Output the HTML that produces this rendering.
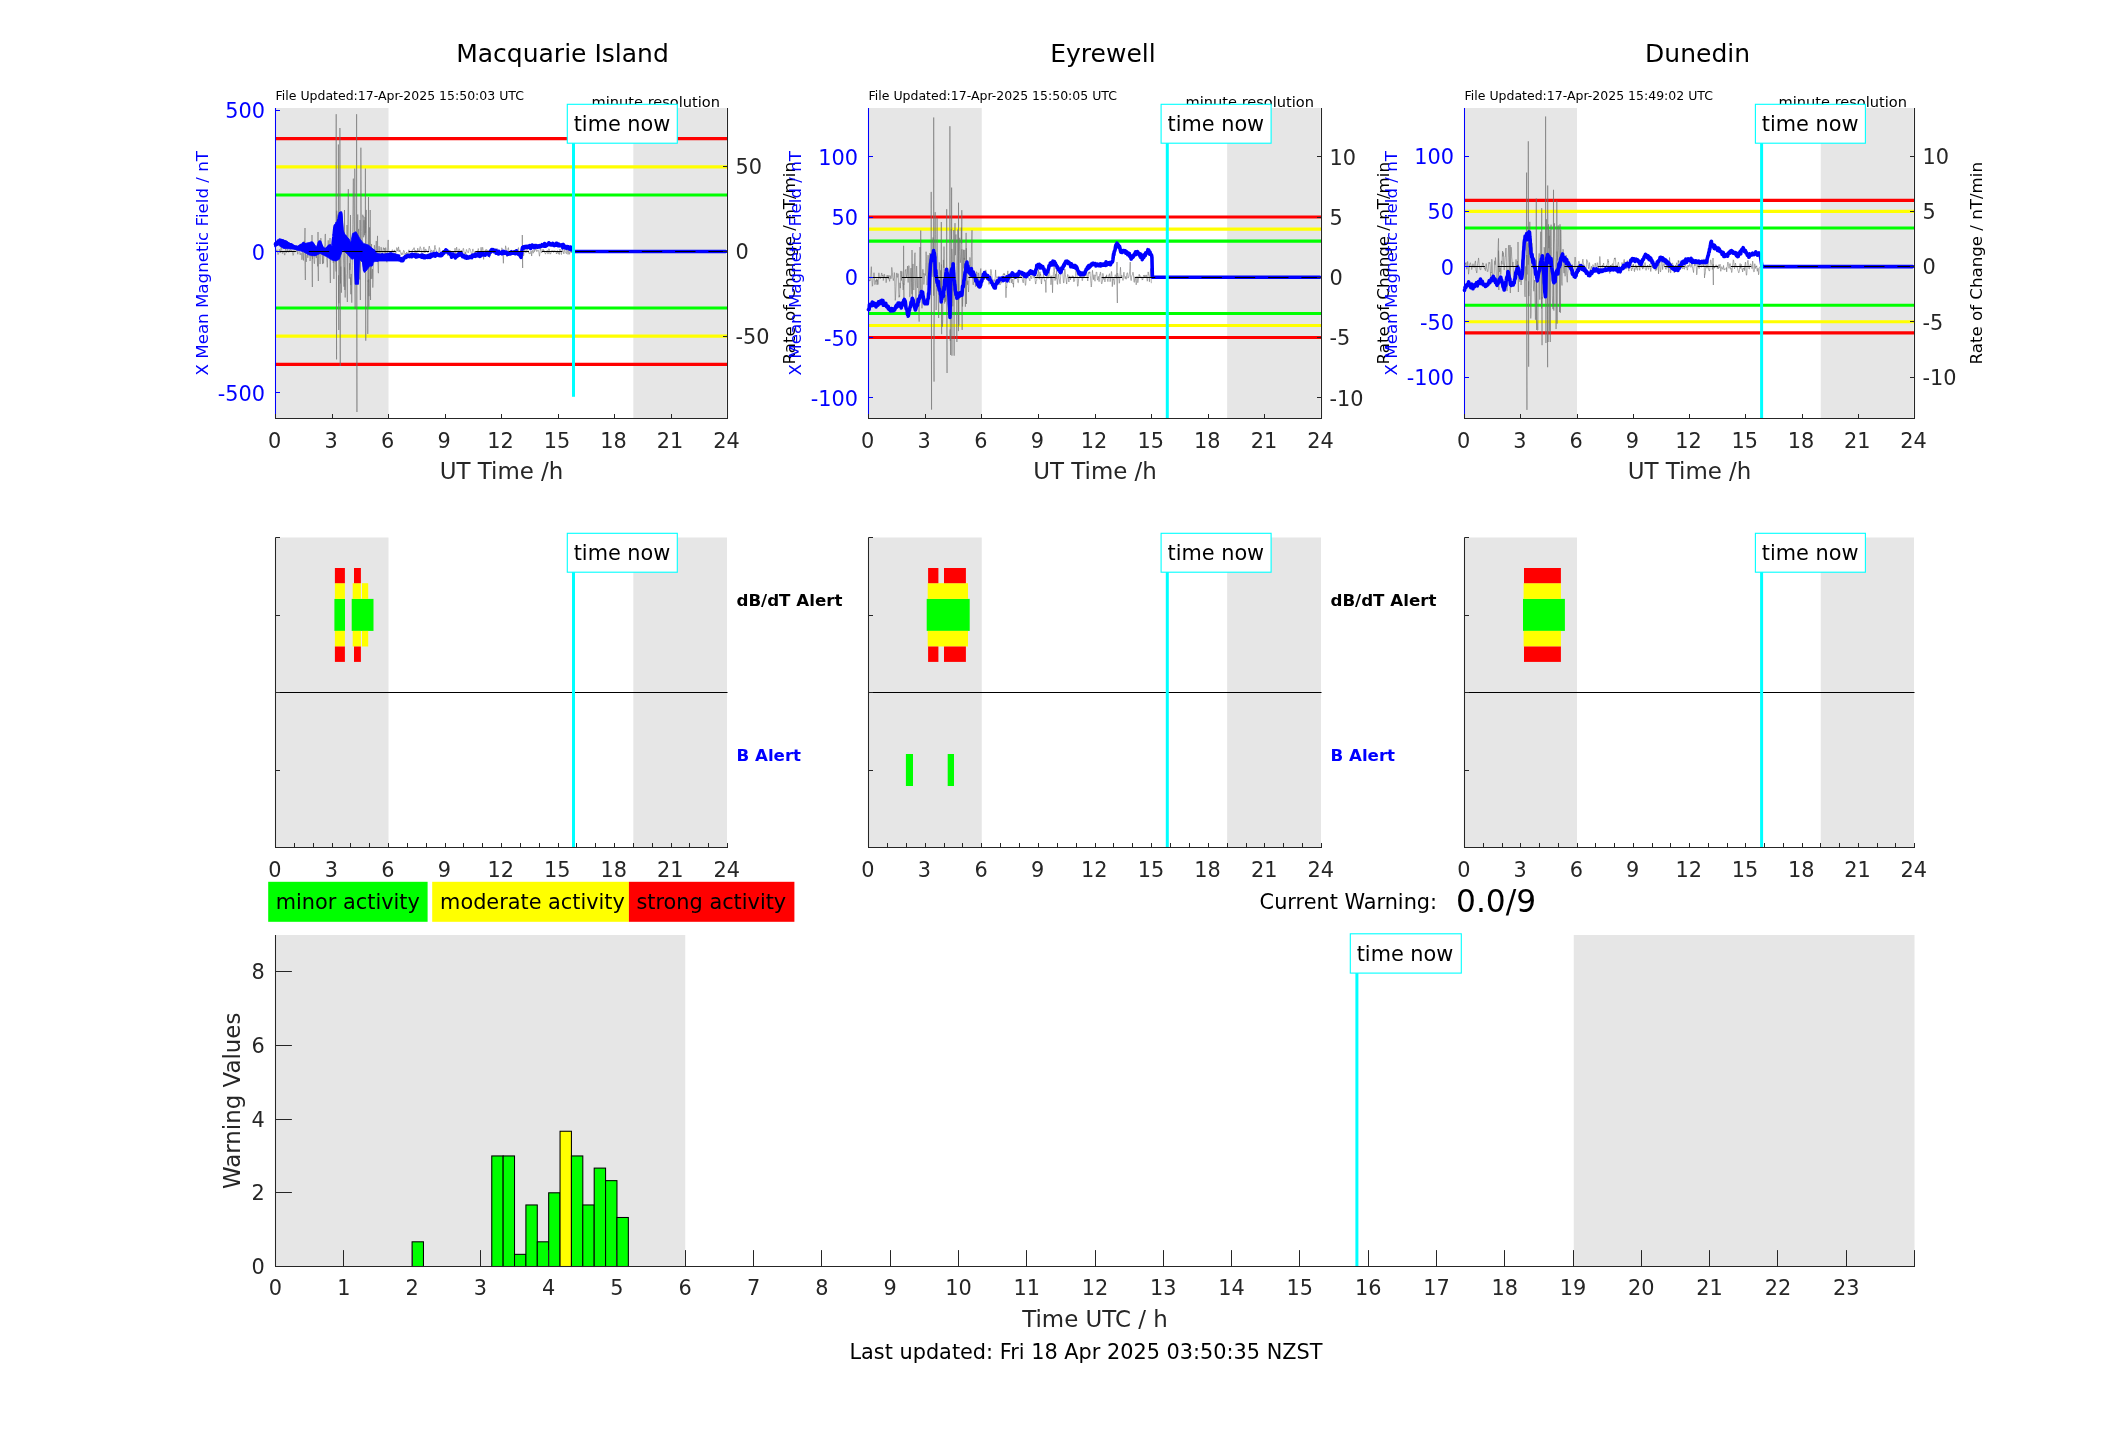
<!DOCTYPE html>
<html><head><meta charset="utf-8"><title>Geomagnetic alerts</title>
<style>html,body{margin:0;padding:0;background:#fff;overflow:hidden}svg{display:block;will-change:transform}text{font-family:"DejaVu Sans","Liberation Sans",sans-serif}</style>
</head><body>
<svg width="2117" height="1437" viewBox="0 0 2117 1437">
<rect width="2117" height="1437" fill="#fff"/>
<rect x="276" y="108" width="112.5" height="310" fill="#e6e6e6" />
<rect x="633.33" y="108" width="93.17" height="310" fill="#e6e6e6" />
<text x="275.5" y="100" font-size="12.5" fill="#000" text-anchor="start" font-weight="normal" >File Updated:17-Apr-2025 15:50:03 UTC</text>
<text x="720" y="107.2" font-size="14.58" fill="#000" text-anchor="end" font-weight="normal" >minute resolution</text>
<line x1="276" y1="138.62" x2="727" y2="138.62" stroke="#ff0000" stroke-width="3.1" />
<line x1="276" y1="364.38" x2="727" y2="364.38" stroke="#ff0000" stroke-width="3.1" />
<line x1="276" y1="166.84" x2="727" y2="166.84" stroke="#ffff00" stroke-width="3.1" />
<line x1="276" y1="336.16" x2="727" y2="336.16" stroke="#ffff00" stroke-width="3.1" />
<line x1="276" y1="195.06" x2="727" y2="195.06" stroke="#00ff00" stroke-width="3.1" />
<line x1="276" y1="307.94" x2="727" y2="307.94" stroke="#00ff00" stroke-width="3.1" />
<polyline points="275.5,251.18 275.81,251.78 276.13,251.71 276.44,251.18 276.76,249.89 277.07,249.64 277.38,251.71 277.7,253.28 278.01,254.62 278.32,254.26 278.64,253.31 278.95,252.2 279.27,249.22 279.58,249.66 279.89,251.36 280.21,252.97 280.52,251.11 280.84,248.11 281.15,246.89 281.46,247.72 281.78,250.25 282.09,252.15 282.41,253.54 282.72,252.6 283.03,251.97 283.35,251.89 283.66,250.86 283.98,252.7 284.29,253.86 284.6,254.91 284.92,255.21 285.23,250.57 285.54,249.13 285.86,249.27 286.17,251.13 286.49,252.63 286.8,252.39 287.11,250.68 287.43,249.47 287.74,251.22 288.06,251.31 288.37,251.75 288.68,252.4 289,250.52 289.31,249.98 289.62,251.98 289.94,250.38 290.25,249.61 290.57,249.9 290.88,249.78 291.19,251.1 291.51,251.93 291.82,250.39 292.14,251.06 292.45,252.45 292.76,253.96 293.08,255.45 293.39,254.94 293.71,253.26 294.02,249.94 294.33,249.58 294.65,249.49 294.96,249.79 295.27,249.16 295.59,248.68 295.9,249.03 296.22,251.92 296.53,250.82 296.84,248.72 297.16,249.11 297.47,252.18 297.79,254.28 298.1,251.84 298.41,247.24 298.73,247.07 299.04,248.06 299.36,248.77 299.67,251.6 299.98,254.47 300.3,254.9 300.61,253.91 300.93,252.82 301.24,253.59 301.55,253.84 301.87,259.74 302.18,258.12 302.49,246.52 302.81,248.7 303.12,255.87 303.44,260.46 303.75,249.22 304.06,240.94 304.38,245.29 304.69,241.55 305,228 305.35,280 305.01,243.06 305.32,252.72 305.63,251.02 305.95,258.24 306.26,261.9 306.57,258.49 306.89,255.07 307.2,254.79 307.52,253.75 307.83,257.81 308.14,253.94 308.46,248.67 308.77,252.18 309.09,253.94 309.4,249.46 309.71,252.59 310.03,261.04 310.34,259.2 310.66,247.92 310.97,242.66 311.28,243.01 311.6,245.55 311.91,256.55 312,235 312.35,287 312.23,255.27 312.54,259.08 312.85,251.52 313.17,243.46 313.48,245.77 313.79,255.18 314.11,262.94 314.42,263.76 314.74,259.4 315.05,254.2 315.36,252.96 315.68,250.75 315.99,250.94 316.31,258 316.62,254.89 316.93,257.38 317.25,258.89 317.56,266.31 317.88,265.33 318,232 318.35,281 318.19,256.46 318.5,247.51 318.82,244.32 319.13,250.35 319.44,252.53 319.76,255.16 320.07,264.02 320.39,250.62 320.7,238.1 321.01,238.45 321.33,246.48 321.64,254.33 321.96,255.25 322.27,257.3 322.58,264.06 322.9,252.01 323.21,260.91 323.52,263.32 323.84,256.59 324.15,250.11 324.47,246.06 324.78,245.97 325.09,234.96 325.41,233.94 325.72,246.26 326.04,249.63 326.35,252 326.66,257.78 326.98,262.35 327.29,267.34 327.61,258.24 327.92,244.42 328.23,240.34 328.55,246.2 328.86,257.19 329.18,247.44 329.49,249.28 329.8,244.15 330,238 330.35,283 330.12,248.01 330.43,244.34 330.74,246.41 331.06,255.73 331.37,258.22 331.69,257.5 332,258.34 332.31,256.42 332.63,254.17 332.94,257.69 333.26,262.81 333.57,259.09 333.88,278.91 334.2,264.45 334.51,258.56 334.82,249.85 335.14,246.95 335.45,253.48 335.77,262.81 336.08,271.53 336.2,114.2 336.55,359.4 336.39,244.71 336.71,210.69 337.02,219.44 337.34,224.43 337.65,224.17 337.96,214.58 338.28,244.65 338.4,144.5 338.75,330 338.59,275.32 338.91,303.26 339.22,281.46 339.53,256.01 339.85,223.11 339.9,128 340.25,366 340.16,229.12 340.48,283.43 340.79,266.6 341.1,283.21 341.42,292.69 341.73,276.74 342.04,227.44 342.36,231.96 342.67,241.81 342.99,242.68 343.3,253.03 343.61,264.1 343.93,286.68 344.24,268.18 344.5,210 344.85,290 344.56,267.3 344.87,281.71 345.18,297.53 345.5,282.84 345.81,249.65 346.12,247.3 346.44,249.6 346.75,253.56 347,225 347.35,302 347.07,275.88 347.38,273.29 347.69,228.08 348.01,208.03 348.32,189.14 348.64,218.92 348.95,254.65 349.26,278.66 349.58,263.2 349.89,269.9 350.21,266.47 350.5,215 350.85,285 350.52,277.47 350.83,294.24 351.15,273.98 351.46,287.6 351.77,302.67 352.09,277.99 352.4,265.51 352.72,224.59 353.03,198.17 353.34,178.6 353.66,216.46 353.97,234.82 354.29,252.24 354.6,258.64 354.8,168.6 355.15,309 354.91,258.53 355.23,246.55 355.54,245.65 355.86,274.28 356.17,280.43 356.48,278.65 356.6,114.2 356.95,412 356.8,280.25 357.11,265.27 357.42,232.2 357.74,214.48 358.05,237.27 358.37,231.86 358.68,228.88 358.99,252.32 359.31,276.57 359.62,278.74 359.94,279.59 360,220 360.35,300 360.25,269.87 360.56,238.82 360.88,147.69 361.19,197.12 361.51,231.28 361.82,250.8 362.13,248.51 362.45,237.19 362.76,214.74 363.07,217.2 363.39,216.54 363.7,237.3 364.02,220.19 364.33,229.72 364.64,235.27 364.96,216.9 365.27,233.08 365.4,168.6 365.75,340.7 365.59,246.2 365.9,222.81 366.21,209.91 366.53,225.84 366.84,239.36 367.16,263.8 367.47,282.77 367.78,333.96 368.1,280.37 368.41,282.37 368.5,197 368.85,306.8 368.73,279.34 369.04,296.2 369.35,227.71 369.67,227.42 369.98,257.47 370.2,210 370.55,300 370.29,266.91 370.61,258.23 370.92,279.13 371.24,252.18 371.55,243.99 371.86,278.72 372.18,271.85 372.49,269.11 372.81,287.59 373.12,279.73 373.43,259.63 373.75,259.53 374.06,250.28 374.38,245.19 374.69,247.04 375,255.15 375.32,257.75 375.63,255.17 375.94,245.83 376.26,241.04 376.57,248.6 376.89,254.7 377.2,251.35 377.51,235.86 377.83,260.2 378.14,272 378.46,273.2 378.77,248.11 379.08,246.18 379.4,247.81 379.71,255.05 380.02,258.61 380.34,257.19 380.65,255.29 380.97,247.15 381.28,247.5 381.59,250.39 381.91,250.53 382.22,254.72 382.54,260.6 382.85,255.84 383.16,249.43 383.48,247.64 383.79,248.9 384.11,249.66 384.42,248.2 384.73,254.77 385.05,259.78 385.36,255.5 385.67,247.62 385.99,249.75 386.3,254.45 386.62,260.76 386.93,262.31 387.24,255.88 387.56,251.09 387.87,242.65 388.19,239.92 388.5,247.93 388.81,251.05 389.13,252.07 389.44,252.22 389.76,252.55 390.07,252.72 390.38,253.05 390.7,252.79 391.01,251.67 391.32,251.95 391.64,251.96 391.95,250.74 392.27,249.64 392.58,249.87 392.89,250.6 393.21,251.59 393.52,252.1 393.84,252.33 394.15,251.91 394.46,249.95 394.78,250.09 395.09,252.1 395.41,253.47 395.72,253.11 396.03,252.73 396.35,250.78 396.66,247.7 396.98,247.78 397.29,248.36 397.6,251 397.92,251.34 398.23,248.36 398.54,246.85 398.86,250.06 399.17,252 399.49,251.16 399.8,249.9 400.11,250.58 400.43,251.97 400.74,252.75 401.06,254.44 401.37,254.92 401.68,253.62 402,252.68 402.31,253.68 402.62,254.44 402.94,254.8 403.25,252.18 403.57,250.25 403.88,250.65 404.19,250.89 404.51,252.61 404.82,253.8 405.14,254.53 405.45,253.31 405.76,254.96 406.08,255.84 406.39,254.11 406.71,252.09 407.02,253.91 407.33,253.41 407.65,253.35 407.96,253.69 408.27,252.9 408.59,250.4 408.9,249.75 409.22,250.62 409.53,252.89 409.84,254.48 410.16,254.04 410.47,253.71 410.79,253.2 411.1,252.41 411.41,251.63 411.73,250.85 412.04,251.55 412.36,250.62 412.67,249.73 412.98,250.04 413.3,249.06 413.61,249.09 413.92,247.71 414.24,247.81 414.55,250.23 414.87,252.83 415.18,253.59 415.49,252.79 415.81,250.02 416.12,251.41 416.44,252.86 416.75,257.85 417.06,252.84 417.38,251.16 417.69,248.14 418.01,248.96 418.32,251.7 418.63,250.78 418.95,250.53 419.26,251.61 419.57,249.98 419.89,247.52 420.2,246.64 420.52,247.57 420.83,248.12 421.14,249.98 421.46,252 421.77,253.66 422.09,254.47 422.4,255.43 422.71,255.63 423.03,252.26 423.34,249.44 423.66,247.51 423.97,246.92 424.28,248.55 424.6,250.78 424.91,252.94 425.23,251.52 425.54,249.2 425.85,248.94 426.17,249.7 426.48,250.54 426.79,251.36 427.11,250.94 427.42,251.82 427.74,252.6 428.05,252.43 428.36,251.08 428.68,248.9 428.99,247.07 429.31,246.07 429.62,248.01 429.93,248.79 430.25,250.69 430.56,252.28 430.88,251.1 431.19,250.33 431.5,250.04 431.82,251.11 432.13,252.62 432.44,252.91 432.76,251.38 433.07,250.42 433.39,250.29 433.7,251.67 434.01,252.72 434.33,251.85 434.64,247.21 434.96,245.34 435.27,248.58 435.58,248.46 435.9,249.62 436.21,250.5 436.52,251.56 436.84,252.77 437.15,252.35 437.47,254.6 437.78,254.05 438.09,253.96 438.41,252.95 438.72,253.12 439.04,249.56 439.35,247.54 439.66,248.52 439.98,251.14 440.29,255.63 440.61,256.63 440.92,256.45 441.23,255.07 441.55,253.87 441.86,252.77 442.17,251.4 442.49,251.32 442.8,250.03 443.12,251.43 443.43,250.98 443.74,251.28 444.06,254.15 444.37,254.26 444.69,253.11 445,253.18 445.31,252.5 445.63,250.68 445.94,250.36 446.26,251.42 446.57,252.91 446.88,252.92 447.2,253.59 447.51,255.5 447.82,254.77 448.14,253.23 448.45,251.08 448.77,251.82 449.08,251.22 449.39,251.85 449.71,251.44 450.02,250.39 450.34,251.2 450.65,255.73 450.96,253.77 451.28,252.1 451.59,251.92 451.91,251.57 452.22,251.73 452.53,253.59 452.85,255.07 453.16,253.64 453.47,254.7 453.79,253.85 454.1,253.29 454.42,251.38 454.73,250.33 455.04,248.12 455.36,250.63 455.67,254.08 455.99,253.32 456.3,250.23 456.61,247.1 456.93,248.81 457.24,250.39 457.56,251.69 457.87,251.93 458.18,251.72 458.5,250.16 458.81,249.94 459.12,248.75 459.44,249.24 459.75,250.91 460.07,252.67 460.38,252.83 460.69,251.2 461.01,250.64 461.32,250.12 461.64,252.39 461.95,254.18 462.26,253.82 462.58,252 462.89,249.9 463.21,248.32 463.52,248.44 463.83,250.25 464.15,252.44 464.46,256.84 464.77,256.24 465.09,254.51 465.4,252.22 465.72,254.08 466.03,251.64 466.34,249.59 466.66,249.53 466.97,250.58 467.29,252.07 467.6,252.34 467.91,252.56 468.23,252.27 468.54,252.72 468.86,250.08 469.17,248.18 469.48,248.62 469.8,248.89 470.11,248.92 470.42,250.88 470.74,251.43 471.05,252.55 471.37,253.61 471.68,253.62 471.99,253.3 472.31,252.18 472.62,249.53 472.94,248.91 473.25,250.3 473.56,250.95 473.88,251.43 474.19,252.65 474.51,251.72 474.82,251.9 475.13,254.11 475.45,253.47 475.76,252.41 476.07,251.23 476.39,252.6 476.7,253.25 477.02,253.93 477.33,252.35 477.64,250.59 477.96,250.56 478.27,248.51 478.59,250.5 478.9,253.15 479.21,251.71 479.53,251.74 479.84,251.49 480.16,251.91 480.47,252.4 480.78,250.42 481.1,247.23 481.41,252.15 481.72,252.18 482.04,250.83 482.35,248.71 482.67,247.29 482.98,248.82 483.29,252.95 483.61,259.42 483.92,254.96 484.24,256.08 484.55,254 484.86,250.89 485.18,250.11 485.49,250.98 485.81,250.44 486.12,249.18 486.43,249.89 486.75,251.31 487.06,250.56 487.38,250.33 487.69,250.06 488,251.12 488.32,251.74 488.63,251.86 488.94,251.33 489.26,253.51 489.57,257.69 489.89,253.64 490.2,253.35 490.51,251.42 490.83,250.49 491.14,251.35 491.46,253.76 491.77,253.6 492.08,252.47 492.4,251.66 492.71,249.29 493.02,249 493.34,249.14 493.65,250.73 493.97,250.56 494.28,248.45 494.59,248.71 494.91,250.43 495.22,251.18 495.54,252.83 495.85,252.8 496.16,251.46 496.48,251.32 496.79,249.4 497.11,248.45 497.42,249.27 497.73,251.78 498.05,252.83 498.36,253.19 498.67,251.82 498.99,251.29 499.3,253.15 499.62,252.58 499.93,254.7 500.24,253.63 500.56,252.11 500.87,251.21 501.19,252.11 501.5,250.8 501.81,247.81 502.13,248.57 502.44,251.29 502.76,253.65 503.07,257.22 503.38,263.3 503.7,254.57 504.01,253.07 504.32,251.99 504.64,253.23 504.95,251.61 505.27,250.2 505.58,245.77 505.89,246.91 506.21,249.14 506.52,252.57 506.84,256.63 507.15,256.55 507.46,253.92 507.78,250.77 508.09,248.33 508.41,247.64 508.72,249.79 509.03,251.78 509.35,252.84 509.66,252.6 509.97,253.1 510.29,253.27 510.6,252.39 510.92,252.32 511.23,251.73 511.54,249.88 511.86,251.38 512.17,252.84 512.49,251.86 512.8,252.48 513.11,252.81 513.43,250.47 513.74,251.63 514.06,252.62 514.37,253.76 514.68,253.61 515,252.4 515.31,249.42 515.62,249.91 515.94,250.94 516.25,251.4 516.57,252.13 516.88,252.35 517.19,252.92 517.51,252.14 517.82,251.37 518.14,248.38 518.45,247.61 518.76,249.77 519.08,253.39 519.39,254.08 519.71,253.15 520.02,253.85 520.33,252.77 520.65,252.52 520.96,253.99 521.27,253.72 521.59,254.09 521.9,252.25 522.22,251.16 522.3,235 522.65,268 522.53,249.55 522.84,250.86 523.16,252.67 523.47,256.09 523.79,255.08 524.1,252.21 524.41,250.92 524.73,249.17 525.04,249.87 525.36,251.69 525.67,252.27 525.98,252.89 526.3,250.7 526.61,250.79 526.92,249.26 527.24,248.56 527.55,248.82 527.87,249.67 528.18,252.02 528.49,253.18 528.81,252.57 529.12,252.42 529.44,253.88 529.75,253.61 530.06,252.97 530.38,253.48 530.69,253.2 531.01,250.7 531.32,252.75 531.63,256.04 531.95,253.36 532.26,251 532.58,250.44 532.89,251.8 533.2,253.24 533.52,252.91 533.83,250.8 534.14,250.08 534.46,251.6 534.77,251.04 535.09,249.68 535.4,249.72 535.71,248.15 536.03,248.48 536.34,249.48 536.66,251.49 536.97,251.74 537.28,250.68 537.6,249.98 537.91,250.22 538.22,250.11 538.54,250.69 538.85,252.3 539.17,254.28 539.48,256.23 539.79,254.2 540.11,251.35 540.42,246.79 540.74,248.74 541.05,250.16 541.36,251.5 541.68,252.88 541.99,251.35 542.31,251.14 542.62,251.16 542.93,249.07 543.25,249.37 543.56,251.97 543.88,250.15 544.19,251.56 544.5,252.16 544.82,252.78 545.13,253.09 545.44,254.15 545.76,253.27 546.07,253.06 546.39,251.74 546.7,251.8 547.01,250.7 547.33,250.32 547.64,252.77 547.96,254.1 548.27,253.47 548.58,250.82 548.9,248.7 549.21,249.03 549.52,251.48 549.84,253.36 550.15,254.21 550.47,253.4 550.78,253.77 551.09,252.47 551.41,250.64 551.72,251.12 552.04,251.63 552.35,251.51 552.66,250.73 552.98,250.33 553.29,251.41 553.61,252.48 553.92,251.13 554.23,251.09 554.55,251.47 554.86,250.46 555.17,251.32 555.49,251.53 555.8,251.22 556.12,252.16 556.43,254 556.74,253.04 557.06,252.36 557.37,250.52 557.69,252.8 558,252.86 558.31,253.76 558.63,252.43 558.94,252.29 559.26,254.59 559.57,251.33 559.88,249.08 560.2,249.55 560.51,250.57 560.83,250.73 561.14,253.81 561.45,254.57 561.77,251.58 562.08,250.29 562.39,248.73 562.71,250.17 563.02,250.85 563.34,251.93 563.65,253.63 563.96,253.88 564.28,251.23 564.59,247.8 564.91,249.04 565.22,251.74 565.53,252.11 565.85,253.1 566.16,253.54 566.47,253.66 566.79,249.97 567.1,248.26 567.42,249.88 567.73,252.41 568.04,254.48 568.36,251.24 568.67,249.79 568.99,250.37 569.3,254.34 569.61,254.07 569.93,252.36 570.24,251.08 570.56,251.65 570.87,251.36 571.18,252.67 571.5,251.9 571.81,251.62" fill="none" stroke="#6e6e6e" stroke-width="0.55" stroke-linejoin="round" stroke-linecap="round" stroke-linecap="butt" stroke-linejoin="miter"/>
<polygon points="274.6,242.6 280,239.7 286.7,241.3 291.7,244.3 297.5,246.8 300,244.3 303.4,244.3 306.7,243 310.9,242.2 315.1,245.1 316.7,248.4 320.1,241.8 323.4,247.6 326.8,248.4 330.1,244.3 333.4,248.4 335.5,222.6 338.4,221.3 339.3,212.5 341.8,211.7 343,230.1 346,236.7 349.3,239.2 350.6,243.4 352.6,233.4 356,231.7 360.2,239.2 363.5,243.4 368.5,245.1 373.5,249.3 376.8,253.4 382.7,254.3 391,252.6 400,255.1 400,261 386.9,261 376.8,261 371.8,262.6 369.3,266.8 366.8,270.1 364.3,272.6 362.7,262.6 359.3,259.3 358.5,284.3 355.1,284.3 354.3,258.4 351.8,259.3 346.8,253.4 342.6,250.1 339.3,259.3 335.9,261 331.8,260.1 326.8,256.8 320.1,253.4 315.1,255.9 309.2,255.1 303.4,251.8 295,249.3 283.4,248.4 278.3,245.1 274.6,246.8" fill="#0000ff" stroke="#0000ff" stroke-width="0.8" stroke-linejoin="round"/>
<polyline points="275.5,244.09 275.81,244.71 276.13,243.99 276.44,243.07 276.76,243.85 277.07,243.22 277.38,242.28 277.7,243.23 278.01,242.16 278.32,240.99 278.64,241.64 278.95,241.21 279.27,241.22 279.58,240.87 279.89,240.07 280.21,240.72 280.52,240.98 280.84,240.74 281.15,240.87 281.46,240.59 281.78,241.09 282.09,241.07 282.41,241.37 282.72,241.35 283.03,240.92 283.35,242 283.66,241.63 283.97,241.92 284.29,241.76 284.6,242.26 284.92,242.27 285.23,243.26 285.54,242.02 285.86,242.41 286.17,243.07 286.49,242.72 286.8,243.28 287.11,244.57 287.43,243.83 287.74,243.89 288.06,244.26 288.37,244.41 288.68,244.51 289,244.53 289.31,244.56 289.62,245.32 289.94,245.32 290.25,245.15 290.57,245.34 290.88,245 291.19,245.27 291.51,245.12 291.82,245.8 292.14,246.69 292.45,246.68 292.76,246.32 293.08,246.38 293.39,246.99 293.71,247.14 294.02,246.64 294.33,247.12 294.65,247.53 294.96,247.6 295.27,247.75 295.59,247.89 295.9,247.7 296.22,247.47 296.53,247.13 296.84,247.51 297.16,248.27 297.47,248.6 297.79,248.41 298.1,247.97 298.41,247.52 298.73,248.34 299.04,247.36 299.36,247.48 299.67,247.97 299.98,246.86 300.3,246.73 300.61,246.93 300.92,246.24 301.24,246.61 301.55,246.75 301.87,245.74 302.18,246.25 302.49,245.03 302.81,245.29 303.12,244.9 303.44,243.8 303.75,244.49 304.06,244.67 304.38,244.42 304.69,244.46 305.01,245.65 305.32,245.48 305.63,246.6 305.95,247.04 306.26,247.25 306.57,247.41 306.89,247.91 307.2,248.77 307.52,248.6 307.83,247.63 308.14,246.23 308.46,246.35 308.77,245.99 309.09,246.84 309.4,245.35 309.71,246.15 310.03,245.4 310.34,244.9 310.66,245.24 310.97,244.26 311.28,244.51 311.6,244.2 311.91,243.13 312.22,243.8 312.54,244.99 312.85,244.3 313.17,246.3 313.48,246.52 313.79,247.64 314.11,247.88 314.42,248.54 314.74,248.57 315.05,249.55 315.36,250.49 315.68,251.48 315.99,251.29 316.31,251.09 316.62,250.33 316.93,249.6 317.25,248.88 317.56,248.11 317.87,246.81 318.19,246.49 318.5,245.53 318.82,244.92 319.13,243.23 319.44,242.96 319.76,242 320.07,242.72 320.39,243.75 320.7,244.55 321.01,245.52 321.33,246.06 321.64,246.83 321.96,248.05 322.27,248.74 322.58,250 322.9,250.81 323.21,251.94 323.52,252.13 323.84,252.81 324.15,252.42 324.47,252.07 324.78,251.25 325.09,252 325.41,251.03 325.72,251.14 326.04,249.93 326.35,249.91 326.66,249.86 326.98,249.13 327.29,248.82 327.61,248.19 327.92,248.79 328.23,248.02 328.55,247.18 328.86,247 329.17,246.25 329.49,246.49 329.8,247.95 330.12,249.62 330.43,251.8 330.74,254.48 331.06,255.3 331.37,256.92 331.69,256.08 332,253.85 332.31,250.53 332.63,247.55 332.94,245.73 333.26,241.95 333.57,239.15 333.88,236.99 334.2,234.29 334.51,230.9 334.82,228.13 335.14,226.19 335.45,225.69 335.77,237.65 336.08,251.66 336.39,258.69 336.71,252.82 337.02,246.2 337.34,239.81 337.65,234.01 337.96,228.79 338.28,222.2 338.59,220.22 338.91,220.02 339.22,218.91 339.53,216.99 339.85,215.91 340.16,215.38 340.47,213.31 340.79,214.52 341.1,218.65 341.42,223.55 341.73,227.2 342.04,231.84 342.36,236.08 342.67,241.42 342.99,245.47 343.3,247.2 343.61,245.41 343.93,243.81 344.24,241.71 344.56,240.06 344.87,237.45 345.18,236.4 345.5,237.96 345.81,238.21 346.12,237.94 346.44,239.52 346.75,239.91 347.07,239.07 347.38,240.6 347.69,241.43 348.01,241.62 348.32,242.09 348.64,243.16 348.95,243.36 349.26,243.56 349.58,245.85 349.89,247.28 350.21,248.09 350.52,250.44 350.83,251.32 351.15,252.1 351.46,254.01 351.77,255.16 352.09,254.78 352.4,251.81 352.72,249.48 353.03,247.84 353.34,244.65 353.66,242.24 353.97,239.97 354.29,237.28 354.6,235.43 354.91,235.94 355.23,244.01 355.54,252.75 355.86,259.07 356.17,267.13 356.48,275.38 356.8,282.19 357.11,275.56 357.42,269.47 357.74,263.4 358.05,256.33 358.37,249.25 358.68,242.26 358.99,243.6 359.31,243.13 359.62,242.8 359.94,244.19 360.25,244.39 360.56,243.89 360.88,243.79 361.19,245.63 361.51,245.05 361.82,245.21 362.13,245.84 362.45,245.93 362.76,248.63 363.07,251.74 363.39,255.82 363.7,259.89 364.02,264 364.33,267.02 364.64,270.03 364.96,268.4 365.27,265.39 365.59,263.38 365.9,260.67 366.21,258.21 366.53,255.38 366.84,253.27 367.16,250.83 367.47,248.18 367.78,250.2 368.1,250.37 368.41,251.98 368.72,253.85 369.04,255.55 369.35,256.22 369.67,257.82 369.98,259.03 370.29,260.35 370.61,262.67 370.92,263.55 371.24,264.79 371.55,264.58 371.86,262.26 372.18,259.88 372.49,256.88 372.81,254.27 373.12,251.82 373.43,250.86 373.75,251.47 374.06,251.52 374.37,252.85 374.69,253.46 375,255.06 375.32,255.22 375.63,255.68 375.94,257.31 376.26,257.39 376.57,258.52 376.89,259.09 377.2,260.08 377.51,260.02 377.83,258.97 378.14,258.7 378.46,259 378.77,258.23 379.08,258.1 379.4,258.11 379.71,257.05 380.02,257.49 380.34,256.65 380.65,256.23 380.97,255.93 381.28,256.71 381.59,255.76 381.91,255.4 382.22,254.87 382.54,256.12 382.85,255.47 383.16,256.1 383.48,257.18 383.79,257.49 384.11,257.3 384.42,258.08 384.73,258.09 385.05,258 385.36,258.82 385.67,258.4 385.99,258.6 386.3,258.52 386.62,257.79 386.93,258.12 387.24,257.68 387.56,258.07 387.87,258.15 388.19,258.16 388.5,258.65 388.81,257.46 389.13,257.96 389.44,257.71 389.76,257.54 390.07,256.78 390.38,257.23 390.7,257.02 391.01,256.79 391.32,256.75 391.64,256.12 391.95,256.33 392.27,256.46 392.58,256.01 392.89,256.23 393.21,256.39 393.52,255.84 393.84,255.77 394.15,256.28 394.46,256.23 394.78,256.29 395.09,256.55 395.41,257.59 395.72,257.32 396.03,257.52 396.35,257.77 396.66,256.96 396.97,257.97 397.29,258.27 397.6,258.08 397.92,257.95 398.23,258.97 398.54,258.46 398.86,259.44 399.17,258.47 399.49,258.91 399.8,259.63 400.11,259.69 400.43,259.82 400.74,258.99 401.06,260.66 401.37,258.67 401.68,258.96 402,259.41 402.31,260.41 402.62,259.73 402.94,260.54 403.25,259.51 403.57,259.25 403.88,257.88 404.19,258.02 404.51,258.02 404.82,256.99 405.14,256.93 405.45,256.42 405.76,256.68 406.08,257.33 406.39,256.82 406.71,256.42 407.02,256.54 407.33,255.66 407.65,255.95 407.96,255.82 408.27,255.47 408.59,255.81 408.9,255.45 409.22,256.01 409.53,256.54 409.84,256.21 410.16,255.99 410.47,256.27 410.79,255.77 411.1,255.31 411.41,254.58 411.73,256.69 412.04,256.02 412.36,254.34 412.67,255.99 412.98,255.44 413.3,255.67 413.61,255.87 413.92,255.26 414.24,254.77 414.55,255.27 414.87,256.28 415.18,255.11 415.49,254.79 415.81,255.71 416.12,257.06 416.44,255.11 416.75,256.49 417.06,255.84 417.38,256.01 417.69,256.67 418.01,255.11 418.32,255.65 418.63,255.5 418.95,256.1 419.26,255.83 419.57,255.96 419.89,256.37 420.2,255.7 420.52,256.01 420.83,255.54 421.14,256.88 421.46,256.56 421.77,257.24 422.09,255.06 422.4,255.63 422.71,256.12 423.03,256.92 423.34,255.95 423.66,255.66 423.97,257.62 424.28,256.33 424.6,256.46 424.91,255.83 425.22,257.76 425.54,256.84 425.85,256.34 426.17,256.41 426.48,256.6 426.79,256.9 427.11,256.63 427.42,255.98 427.74,257.39 428.05,255.73 428.36,257.19 428.68,256.77 428.99,255.24 429.31,256.81 429.62,256.31 429.93,255.48 430.25,257.35 430.56,256.77 430.87,254.37 431.19,256.49 431.5,255.27 431.82,254.56 432.13,256.04 432.44,254.65 432.76,255.23 433.07,255.46 433.39,255.1 433.7,254.57 434.01,253.61 434.33,255.07 434.64,256 434.96,256.01 435.27,256.19 435.58,255.42 435.9,255.29 436.21,254.58 436.52,253.3 436.84,254.52 437.15,254.47 437.47,254.36 437.78,255.01 438.09,255.23 438.41,254.52 438.72,255.52 439.04,255.12 439.35,255.5 439.66,255.62 439.98,255.72 440.29,254.63 440.61,254.4 440.92,254.88 441.23,255.67 441.55,253.26 441.86,255.21 442.17,254.01 442.49,254.55 442.8,254.08 443.12,253.25 443.43,252.64 443.74,252.69 444.06,252.99 444.37,251.55 444.69,252.1 445,251.36 445.31,251.02 445.63,250.39 445.94,249.76 446.26,250.92 446.57,250.82 446.88,250.64 447.2,251.07 447.51,252.16 447.82,251.87 448.14,252.33 448.45,252.29 448.77,253.12 449.08,252.72 449.39,252.51 449.71,254 450.02,254.22 450.34,253.45 450.65,254.52 450.96,254.81 451.28,255.13 451.59,257.24 451.91,255.39 452.22,255.41 452.53,255.29 452.85,255.35 453.16,254.01 453.47,255.79 453.79,256.14 454.1,255.69 454.42,256.65 454.73,256.8 455.04,257.18 455.36,257.81 455.67,256.21 455.99,255.41 456.3,255.12 456.61,256.71 456.93,255.26 457.24,255.54 457.56,255.96 457.87,255.42 458.18,255.32 458.5,255.28 458.81,253.64 459.12,254.72 459.44,255.16 459.75,253.74 460.07,253.47 460.38,254.76 460.69,254.17 461.01,254.83 461.32,253.44 461.64,254.88 461.95,254.47 462.26,255.8 462.58,256.66 462.89,255.36 463.21,256.44 463.52,255.38 463.83,255.99 464.15,256.64 464.46,256.12 464.77,257.64 465.09,257.18 465.4,256.23 465.72,256.38 466.03,257.08 466.34,256.1 466.66,258.26 466.97,257.13 467.29,256.92 467.6,257.26 467.91,256.9 468.23,257.98 468.54,257.96 468.86,257.46 469.17,257.26 469.48,257.44 469.8,257.01 470.11,256.58 470.42,257.29 470.74,256.67 471.05,256.82 471.37,257.38 471.68,257.6 471.99,256.21 472.31,256.88 472.62,255.1 472.94,255.5 473.25,256.21 473.56,255.45 473.88,255.12 474.19,255.22 474.51,256.02 474.82,254.7 475.13,255.99 475.45,256.24 475.76,254.14 476.07,255.73 476.39,255.88 476.7,254.47 477.02,255.57 477.33,254.93 477.64,255.52 477.96,255.62 478.27,255.34 478.59,253.16 478.9,255.37 479.21,256.03 479.53,254.04 479.84,256.53 480.16,254.44 480.47,253.76 480.78,253.79 481.1,255.61 481.41,254.98 481.72,254.11 482.04,254.16 482.35,252.94 482.67,253.72 482.98,253.43 483.29,254.52 483.61,254.17 483.92,254.94 484.24,254.42 484.55,254.15 484.86,254.62 485.18,255.17 485.49,253.88 485.81,254.23 486.12,253.74 486.43,253.49 486.75,253.39 487.06,253.64 487.37,253.08 487.69,253.76 488,253.62 488.32,254.07 488.63,254.45 488.94,255.06 489.26,252.91 489.57,252.63 489.89,252.59 490.2,251.33 490.51,251.96 490.83,251.23 491.14,250.24 491.46,250.86 491.77,249.69 492.08,250.1 492.4,250.06 492.71,250.33 493.02,249.65 493.34,250.61 493.65,251.42 493.97,251.25 494.28,251.68 494.59,251.45 494.91,251.8 495.22,250.66 495.54,251.17 495.85,250.39 496.16,253.25 496.48,253.16 496.79,251.8 497.11,251.64 497.42,252.41 497.73,251.56 498.05,253.12 498.36,253.95 498.67,251.31 498.99,251.99 499.3,253.28 499.62,253.43 499.93,253.03 500.24,252.76 500.56,252.52 500.87,252.72 501.19,252.26 501.5,252.43 501.81,252.39 502.13,253.8 502.44,251.48 502.76,253.47 503.07,251.82 503.38,251.9 503.7,251.46 504.01,252.33 504.32,253.26 504.64,252.69 504.95,253.01 505.27,252.42 505.58,253.18 505.89,252.06 506.21,253.31 506.52,252.86 506.84,252.41 507.15,254.06 507.46,254.33 507.78,252.94 508.09,254.19 508.41,253.5 508.72,253.93 509.03,253.7 509.35,253.27 509.66,252.8 509.97,254.03 510.29,252.59 510.6,253.02 510.92,253.46 511.23,251.71 511.54,253.38 511.86,252.62 512.17,252.72 512.49,253.19 512.8,252.87 513.11,252.94 513.43,252.34 513.74,252.19 514.06,252.51 514.37,252.41 514.68,252.02 515,253.5 515.31,253.71 515.62,251.52 515.94,252.27 516.25,253.11 516.57,250.88 516.88,253.08 517.19,252.47 517.51,253.1 517.82,253.61 518.14,254.14 518.45,252.68 518.76,254.34 519.08,254.32 519.39,254.99 519.71,253.91 520.02,254.57 520.33,256.01 520.65,256.57 520.96,257.29 521.27,253.53 521.59,253.75 521.9,250.87 522.22,249.13 522.53,247.46 522.84,248.05 523.16,248.28 523.47,246.9 523.79,247.82 524.1,247.45 524.41,246.76 524.73,247.79 525.04,246.5 525.36,246.72 525.67,246.93 525.98,246.96 526.3,246.27 526.61,246.46 526.92,247.45 527.24,246.71 527.55,246.75 527.87,246.45 528.18,247.03 528.49,247.15 528.81,246.23 529.12,246.88 529.44,245.8 529.75,246.36 530.06,245.6 530.38,246.03 530.69,248.51 531.01,245.84 531.32,247.32 531.63,246.65 531.95,246.66 532.26,245.08 532.57,246.66 532.89,245.55 533.2,246.1 533.52,246.06 533.83,246.33 534.14,247.81 534.46,247.76 534.77,245.44 535.09,246.39 535.4,246.12 535.71,246.77 536.03,245.55 536.34,245.68 536.66,246.56 536.97,246.03 537.28,247.21 537.6,246.23 537.91,246.52 538.22,246 538.54,246.79 538.85,247 539.17,246.09 539.48,245.74 539.79,246.42 540.11,246.03 540.42,246.56 540.74,245.91 541.05,245.86 541.36,246.27 541.68,245.12 541.99,244.76 542.31,245.87 542.62,245.36 542.93,245.85 543.25,245.93 543.56,245.57 543.87,244.86 544.19,246.26 544.5,243.59 544.82,244.57 545.13,244.19 545.44,246.31 545.76,244.67 546.07,244.72 546.39,245.2 546.7,245.58 547.01,245.35 547.33,244.58 547.64,244.69 547.96,243.78 548.27,244.64 548.58,244.21 548.9,242.85 549.21,244.43 549.52,244.14 549.84,244.7 550.15,244.53 550.47,244.11 550.78,243.87 551.09,245.02 551.41,244.06 551.72,244.66 552.04,244.31 552.35,244.98 552.66,244.79 552.98,243.41 553.29,244.6 553.61,245.36 553.92,245.26 554.23,244.17 554.55,245.55 554.86,245.1 555.17,244.99 555.49,244.14 555.8,244.94 556.12,245.04 556.43,243.35 556.74,244.47 557.06,243.84 557.37,243.68 557.69,245.1 558,245.61 558.31,245.05 558.63,244.09 558.94,244.28 559.26,245.8 559.57,245.14 559.88,245.53 560.2,245.23 560.51,245.61 560.82,245.15 561.14,245.24 561.45,244.83 561.77,245.9 562.08,245.92 562.39,246.83 562.71,247.73 563.02,246.36 563.34,244.41 563.65,245.6 563.96,247.41 564.28,246.92 564.59,246.58 564.91,246.15 565.22,247.2 565.53,247.18 565.85,247.79 566.16,248.06 566.47,248.3 566.79,247.99 567.1,246.62 567.42,247.88 567.73,246.8 568.04,247.17 568.36,247.21 568.67,247.02 568.99,247.34 569.3,248.99 569.61,248.01 569.93,249.25 570.24,248.34 570.56,247.11 570.87,247.97 571.18,249.61 571.5,249.33 571.81,248.92 572.12,249.4 572.44,249.88 572.75,250.36 573.07,250.84 573.38,251.32 573.5,251.5 725.7,251.5" fill="none" stroke="#0000ff" stroke-width="3.6" stroke-linejoin="round" stroke-linecap="round" />
<line x1="275.5" y1="251.5" x2="727.5" y2="251.5" stroke="#000" stroke-width="1.05" stroke-dasharray="20.4 12.9"/>
<line x1="573.5" y1="143" x2="573.5" y2="396.8" stroke="#00ffff" stroke-width="3" />
<rect x="567.3" y="104.3" width="110" height="38.9" fill="#fff" stroke="#00ffff" stroke-width="1.1"/>
<text x="573.7" y="131" font-size="20.83" fill="#000" text-anchor="start" font-weight="normal" >time now</text>
<line x1="275.5" y1="108" x2="275.5" y2="418.5" stroke="#0000ff" stroke-width="1.05" />
<line x1="275" y1="418.5" x2="728" y2="418.5" stroke="#262626" stroke-width="1.05" />
<line x1="727.5" y1="108" x2="727.5" y2="418.5" stroke="#262626" stroke-width="1.05" />
<line x1="275.5" y1="418.5" x2="275.5" y2="414" stroke="#262626" stroke-width="1.05" />
<text x="274.6" y="447.5" font-size="20.83" fill="#262626" text-anchor="middle" font-weight="normal" >0</text>
<line x1="332.5" y1="418.5" x2="332.5" y2="414" stroke="#262626" stroke-width="1.05" />
<text x="331.1" y="447.5" font-size="20.83" fill="#262626" text-anchor="middle" font-weight="normal" >3</text>
<line x1="388.5" y1="418.5" x2="388.5" y2="414" stroke="#262626" stroke-width="1.05" />
<text x="387.6" y="447.5" font-size="20.83" fill="#262626" text-anchor="middle" font-weight="normal" >6</text>
<line x1="445.5" y1="418.5" x2="445.5" y2="414" stroke="#262626" stroke-width="1.05" />
<text x="444.1" y="447.5" font-size="20.83" fill="#262626" text-anchor="middle" font-weight="normal" >9</text>
<line x1="501.5" y1="418.5" x2="501.5" y2="414" stroke="#262626" stroke-width="1.05" />
<text x="500.6" y="447.5" font-size="20.83" fill="#262626" text-anchor="middle" font-weight="normal" >12</text>
<line x1="558.5" y1="418.5" x2="558.5" y2="414" stroke="#262626" stroke-width="1.05" />
<text x="557.1" y="447.5" font-size="20.83" fill="#262626" text-anchor="middle" font-weight="normal" >15</text>
<line x1="614.5" y1="418.5" x2="614.5" y2="414" stroke="#262626" stroke-width="1.05" />
<text x="613.6" y="447.5" font-size="20.83" fill="#262626" text-anchor="middle" font-weight="normal" >18</text>
<line x1="671.5" y1="418.5" x2="671.5" y2="414" stroke="#262626" stroke-width="1.05" />
<text x="670.1" y="447.5" font-size="20.83" fill="#262626" text-anchor="middle" font-weight="normal" >21</text>
<line x1="727.5" y1="418.5" x2="727.5" y2="414" stroke="#262626" stroke-width="1.05" />
<text x="726.6" y="447.5" font-size="20.83" fill="#262626" text-anchor="middle" font-weight="normal" >24</text>
<line x1="275.5" y1="110.5" x2="280" y2="110.5" stroke="#0000ff" stroke-width="1.05" />
<text x="265.1" y="118.4" font-size="20.83" fill="#0000ff" text-anchor="end" font-weight="normal" >500</text>
<line x1="275.5" y1="251.5" x2="280" y2="251.5" stroke="#0000ff" stroke-width="1.05" />
<text x="265.1" y="259.5" font-size="20.83" fill="#0000ff" text-anchor="end" font-weight="normal" >0</text>
<line x1="275.5" y1="392.5" x2="280" y2="392.5" stroke="#0000ff" stroke-width="1.05" />
<text x="265.1" y="400.6" font-size="20.83" fill="#0000ff" text-anchor="end" font-weight="normal" >-500</text>
<line x1="727.5" y1="166.5" x2="723" y2="166.5" stroke="#262626" stroke-width="1.05" />
<text x="735.6" y="174.3" font-size="20.83" fill="#262626" text-anchor="start" font-weight="normal" >50</text>
<line x1="727.5" y1="251.5" x2="723" y2="251.5" stroke="#262626" stroke-width="1.05" />
<text x="735.6" y="259.3" font-size="20.83" fill="#262626" text-anchor="start" font-weight="normal" >0</text>
<line x1="727.5" y1="336.5" x2="723" y2="336.5" stroke="#262626" stroke-width="1.05" />
<text x="735.6" y="344.3" font-size="20.83" fill="#262626" text-anchor="start" font-weight="normal" >-50</text>
<text x="501.5" y="479.2" font-size="22.92" fill="#262626" text-anchor="middle" font-weight="normal" >UT Time /h</text>
<text transform="translate(208.4,263.25) rotate(-90)" font-size="16.67" fill="#0000ff" text-anchor="middle">X Mean Magnetic Field / nT</text>
<text transform="translate(794.7,263.25) rotate(-90)" font-size="16.67" fill="#000" text-anchor="middle">Rate of Change / nT/min</text>
<text x="562.5" y="62" font-size="25" fill="#000" text-anchor="middle" font-weight="normal" >Macquarie Island</text>
<rect x="869" y="108" width="112.75" height="310" fill="#e6e6e6" />
<rect x="1227.12" y="108" width="93.38" height="310" fill="#e6e6e6" />
<text x="868.5" y="100" font-size="12.5" fill="#000" text-anchor="start" font-weight="normal" >File Updated:17-Apr-2025 15:50:05 UTC</text>
<text x="1314" y="107.2" font-size="14.58" fill="#000" text-anchor="end" font-weight="normal" >minute resolution</text>
<line x1="869" y1="217.05" x2="1321" y2="217.05" stroke="#ff0000" stroke-width="3.1" />
<line x1="869" y1="337.55" x2="1321" y2="337.55" stroke="#ff0000" stroke-width="3.1" />
<line x1="869" y1="229.1" x2="1321" y2="229.1" stroke="#ffff00" stroke-width="3.1" />
<line x1="869" y1="325.5" x2="1321" y2="325.5" stroke="#ffff00" stroke-width="3.1" />
<line x1="869" y1="241.15" x2="1321" y2="241.15" stroke="#00ff00" stroke-width="3.1" />
<line x1="869" y1="313.45" x2="1321" y2="313.45" stroke="#00ff00" stroke-width="3.1" />
<polyline points="868.5,276.94 868.81,276.4 869.13,279.3 869.44,281.14 869.76,279.98 870.07,280.77 870.39,279.79 870.7,275.89 871.02,271.06 871.33,266.65 871.65,274.36 871.96,280.45 872.27,286.25 872.59,285.88 872.9,282.11 873.22,278.42 873.53,276.49 873.85,272.84 874.16,272.8 874.48,277.09 874.79,284.55 875.11,284.52 875.42,282.23 875.74,280.43 876.05,281.44 876.36,281.35 876.68,278.82 876.99,284.8 877.31,280.95 877.62,279.74 877.94,284.57 878.25,280.65 878.57,277.01 878.88,272.81 879.2,275.98 879.51,276.33 879.83,277.47 880.14,278.93 880.45,278.37 880.77,277.49 881.08,276.07 881.4,274.41 881.71,272.93 882.03,274.62 882.34,276.14 882.66,275.3 882.97,274.81 883.29,280.54 883.6,279.52 883.91,276.8 884.23,274.35 884.54,274.3 884.86,277.44 885.17,277.56 885.49,278.19 885.8,279.27 886.12,282.73 886.43,280.97 886.75,276.82 887.06,275.27 887.38,276.49 887.69,275.69 888,275.4 888.32,279.15 888.63,276.83 888.95,275.34 889.26,279.26 889.58,281.37 889.89,279 890.21,275.62 890.52,276.31 890.84,278.8 891.15,278.32 891.46,276.32 891.78,267.39 892.09,269.96 892.41,272.59 892.72,277.34 893.04,278.86 893.35,280.63 893.67,278.64 893.98,277.8 894.3,272.56 894.61,273.73 894.92,286.73 895.24,300.4 895.55,297.32 895.87,290.24 896.18,281.09 896.5,275.37 896.81,272.93 897.13,277.22 897.44,277.34 897.76,277.09 898.07,273.64 898.39,278.98 898.7,291.14 899.01,297.4 899.33,295.49 899.64,296.7 899.96,282.77 900.27,288.17 900.59,272.02 900.9,270.92 901.22,274.31 901.53,280.55 901.85,271.37 902.16,277.69 902.48,283.1 902.79,284.39 903.1,289.86 903.42,288.42 903.6,245.8 903.95,299.7 903.73,283.55 904.05,284.63 904.36,281.55 904.68,280.7 904.99,276.06 905.31,270 905.62,270.28 905.94,269.32 906.25,274.44 906.56,276.86 906.88,274.46 907.19,273.76 907.51,266.1 907.82,272.29 908.14,282.52 908.45,268.89 908.77,265.58 909.08,265.96 909.4,275.53 909.71,296.91 910.02,296.67 910.34,287.12 910.65,271.46 910.97,268.09 911.28,275.69 911.6,282.63 911.91,294.22 912,250 912.35,300 912.23,275.11 912.54,270.23 912.86,264.02 913.17,264.08 913.49,281.56 913.8,290.03 914.11,283.54 914.43,269.41 914.74,254.17 915.06,252.7 915.37,278.24 915.69,290.16 916,303.92 916.32,276.07 916.63,266.02 916.95,272.72 917.26,285.83 917.58,287.94 917.89,278.48 918.2,277.86 918.52,294.09 918.83,316.62 919.15,321.64 919.46,304.79 919.78,288.33 920,247 920.35,296 920.09,265.04 920.41,259.47 920.72,230.53 921.04,264.01 921.35,279.39 921.66,297.73 921.98,308.31 922.29,303.68 922.61,273.12 922.92,269.26 923.24,274.31 923.55,273.53 923.87,284.52 924.18,281.04 924.5,275.46 924.81,273.54 925.12,274.12 925.44,275.51 925.75,262.3 926.07,251.69 926.38,256.73 926.7,274.28 927.01,285.11 927.33,279 927.64,265.83 927.96,255.12 928.27,255.59 928.59,271.4 928.9,284.48 929.21,276.93 929.53,261.57 929.84,253.04 930.16,273.97 930.47,279.02 930.79,279.73 931.1,267.37 931.2,191.9 931.55,409.6 931.42,255.57 931.73,276.54 932.05,277 932.36,273.37 932.67,250.93 932.99,237.45 933.3,249.89 933.62,295.76 933.7,117.5 934.05,381.6 933.93,345.82 934.25,320.25 934.56,282.79 934.88,226.17 935.19,212.19 935.51,234.62 935.82,277.56 936.14,310.07 936.45,294.63 936.76,256.23 937.08,217.67 937.39,252.7 937.71,259.94 938.02,289.27 938.34,304.91 938.65,318 938.97,277.06 939.28,262.34 939.6,268.48 939.91,275.74 940.23,289.09 940.54,270.32 940.85,289.4 941.17,270.53 941.3,222 941.65,334.2 941.48,264.53 941.8,280.82 942.11,297.98 942.43,326.75 942.74,319.77 943.06,276.69 943.37,259.91 943.69,267.86 944,246.58 944.31,265.21 944.63,303.58 944.94,297.75 945.26,302.07 945.57,294.68 945.89,300.63 946.2,283.64 946.52,286.81 946.7,209.2 947.05,373 946.83,296.64 947.15,294.73 947.46,280.05 947.77,267.99 948.09,278.4 948.4,310.27 948.72,310.43 949.03,311.86 949.35,298.9 949.66,317.23 949.9,126.2 950.25,340.7 949.98,331.54 950.29,329.34 950.61,354.96 950.92,277.84 951.24,229.3 951.55,239.5 951.6,187.6 951.95,355.7 951.86,248.9 952.18,254.76 952.49,287.46 952.81,306.34 953.12,283.95 953.44,290.39 953.75,282.7 953.8,230 954.15,355.7 954.07,294.31 954.38,267.38 954.7,235.78 955.01,223.11 955.33,255.2 955.64,245.58 955.95,234.5 956.27,265.44 956.58,334.03 956.9,341.98 957.21,299.82 957.53,258.09 957.84,229.46 958.16,263.41 958.47,331.13 958.5,202.7 958.85,325.6 958.79,295.36 959.1,299.31 959.41,251.6 959.73,237.77 960.04,248.15 960.36,262.74 960.67,260.03 960.99,254.91 961.3,227.62 961.62,243.33 961.8,210.2 962.15,329.9 961.93,249.15 962.25,275.74 962.56,306.51 962.88,297.57 963.19,261.31 963.5,249.78 963.82,268.34 964.13,257.89 964.45,259.74 964.76,249.86 965.08,283.92 965.39,306.74 965.71,276.03 966.02,249.15 966.1,232.9 966.45,304 966.34,248.19 966.65,267.63 966.96,268.24 967.28,280.83 967.59,284.78 967.91,280.64 968.22,286.78 968.54,292.02 968.85,286.13 969.17,277.99 969.48,268.59 969.8,257.37 970.11,257.85 970.42,267.11 970.74,274.17 971.05,272.7 971.37,252.65 971.68,240.3 972,230.27 972.31,267.93 972.63,276.09 972.94,284.03 973.26,284.92 973.57,281.93 973.89,281.45 974.2,279.09 974.51,276.71 974.83,279.18 975.14,279.44 975.46,286.66 975.77,281.85 976.09,275.49 976.4,271.65 976.72,272.72 977.03,272.62 977.35,282.36 977.66,288.01 977.98,278.71 978.29,272.84 978.6,274.34 978.92,281.28 979.23,284.92 979.55,280.31 979.86,279.65 980.18,272.86 980.49,271.5 980.81,268.5 981.12,275.03 981.44,283.81 981.75,285.74 982.06,284.11 982.38,279.91 982.69,275.41 983.01,276.16 983.32,274.82 983.64,276.66 983.95,277.21 984.27,279.05 984.58,279.77 984.9,277.39 985.21,275.12 985.52,271.2 985.84,269.86 986.15,271.21 986.47,276.78 986.78,279.17 987.1,280.16 987.41,278.92 987.73,274.78 988.04,274.84 988.36,279.95 988.67,282.83 988.99,284.46 989.3,283.36 989.61,282.04 989.93,283.46 990.24,277.99 990.56,273.26 990.87,269.35 991.19,270.81 991.5,273.74 991.82,275.4 992.13,278.13 992.45,283.13 992.76,286.11 993.08,287.48 993.39,283.92 993.7,279.91 994.02,279.55 994.33,280.41 994.65,281.54 994.96,279.6 995.28,276.62 995.59,269.89 995.91,276.61 996.22,276.62 996.54,277.37 996.85,278.3 997.16,278.18 997.48,277.14 997.79,277.54 998.11,276.16 998.42,276.21 998.74,279.48 999.05,279.17 999.37,280.6 999.68,282.51 1000,285.01 1000.31,281.11 1000.62,280.83 1000.94,281.25 1001.25,282.76 1001.57,283.2 1001.88,280.53 1002.2,279.6 1002.51,278.48 1002.83,276.39 1003.14,274.5 1003.46,273.83 1003.77,274.76 1004.09,273.13 1004.4,274.85 1004.71,274.05 1005.03,276.42 1005.34,281.07 1005.66,284.52 1005.97,297.71 1006.29,286.82 1006.6,287.62 1006.92,283.3 1007.23,276.51 1007.55,272.85 1007.86,270.83 1008.17,275.47 1008.49,274.03 1008.8,274.81 1009.12,278.37 1009.43,281.17 1009.75,282.82 1010.06,279.12 1010.38,275.39 1010.69,273.97 1011.01,275.75 1011.32,278.71 1011.64,282.86 1011.95,280.13 1012.26,278.91 1012.58,281.25 1012.89,284.01 1013.21,283.08 1013.52,287.31 1013.84,278.73 1014.15,279.24 1014.47,277.61 1014.78,278.36 1015.1,278.88 1015.41,276.95 1015.73,276.54 1016.04,276.6 1016.35,275.63 1016.67,276.26 1016.98,275.37 1017.3,278.17 1017.61,280.45 1017.93,282.47 1018.24,282.75 1018.56,281.12 1018.87,275.77 1019.19,272.98 1019.5,273.53 1019.81,274.58 1020.13,276.3 1020.44,277.03 1020.76,276.66 1021.07,275.03 1021.39,274.23 1021.7,273 1022.02,276.44 1022.33,279.38 1022.65,281.15 1022.96,282.14 1023.27,282.88 1023.59,279.76 1023.9,275.05 1024.22,272.3 1024.53,273.18 1024.85,279.09 1025.16,283.93 1025.48,285.42 1025.79,284.23 1026.11,279.44 1026.42,275.61 1026.74,273.03 1027.05,273.79 1027.36,273.36 1027.68,274.35 1027.99,275.29 1028.31,277.74 1028.62,277.73 1028.94,278.33 1029.25,279.28 1029.57,280.02 1029.88,280.91 1030.2,277.99 1030.51,276.36 1030.83,275.65 1031.14,278.27 1031.45,278.43 1031.77,278.7 1032.08,275.59 1032.4,274.09 1032.71,273.3 1033.03,274.67 1033.34,275.4 1033.66,276.61 1033.97,278.11 1034.29,275.73 1034.6,277.64 1034.91,276.92 1035.23,280.94 1035.54,283.88 1035.86,283.93 1036.17,281.25 1036.49,280.8 1036.8,279.67 1037.12,274.77 1037.43,274.66 1037.75,276.39 1038.06,272.9 1038.38,269.48 1038.69,273.92 1039,278.63 1039.32,279.25 1039.63,275.13 1039.95,271.75 1040.26,275.59 1040.58,273.89 1040.89,275.61 1041.21,282.27 1041.52,284.03 1041.84,280.15 1042.15,277.86 1042.46,277.68 1042.78,278.23 1043.09,277.8 1043.41,274.2 1043.72,274.73 1044.04,277.74 1044.35,280.08 1044.67,281.19 1044.98,280.4 1045.3,280.42 1045.61,286.13 1045.92,292.51 1046.24,280.67 1046.55,274.89 1046.87,269.17 1047.18,269.74 1047.5,276.38 1047.81,278.54 1048.13,278.26 1048.44,276.62 1048.76,273.17 1049.07,270.27 1049.39,272.05 1049.7,274.49 1050.01,276.71 1050.33,276.29 1050.64,279.37 1050.96,284.75 1051.27,282.75 1051.59,276.13 1051.9,275.62 1052.22,279.04 1052.53,292.74 1052.85,282.32 1053.16,278.84 1053.47,272.28 1053.79,271.83 1054.1,264.32 1054.42,270.23 1054.73,274.31 1055.05,280.62 1055.36,276.47 1055.68,273.95 1055.99,279.14 1056.31,276.22 1056.62,270.26 1056.94,278.48 1057.25,284.01 1057.56,284.41 1057.88,279.88 1058.19,277.03 1058.51,274.29 1058.82,274.88 1059.14,278.49 1059.45,280.14 1059.77,282.2 1060.08,283.79 1060.4,280.01 1060.71,276.2 1061.03,272.58 1061.34,273.49 1061.65,272.08 1061.97,271.61 1062.28,269.37 1062.6,272.68 1062.91,274.68 1063.23,279.56 1063.54,282.81 1063.86,283.1 1064.17,279.02 1064.49,272.71 1064.8,269.07 1065.11,270.83 1065.43,274.51 1065.74,277.42 1066.06,278.99 1066.37,282.03 1066.69,284.02 1067,279.61 1067.32,277.54 1067.63,274.47 1067.95,274.55 1068.26,276.28 1068.58,279.59 1068.89,282.01 1069.2,278.81 1069.52,276.14 1069.83,276.06 1070.15,276.14 1070.46,279.93 1070.78,277.96 1071.09,277.67 1071.41,277.72 1071.72,276.56 1072.04,276.01 1072.35,275.73 1072.66,276.87 1072.98,276.5 1073.29,275.94 1073.61,281.46 1073.92,281.66 1074.24,280.94 1074.55,281.11 1074.87,277.66 1075.18,277.25 1075.5,275.75 1075.81,270.4 1076.12,270.57 1076.44,267.45 1076.75,269.9 1077.07,276.04 1077.38,283.64 1077.7,286.31 1078.01,285.9 1078.33,283.1 1078.64,278.96 1078.96,278.1 1079.27,276.48 1079.59,276.54 1079.9,275.44 1080.21,275.09 1080.53,276.66 1080.84,273.88 1081.16,272.53 1081.47,271.91 1081.79,273.82 1082.1,280.42 1082.42,280.73 1082.73,278.94 1083.05,276.5 1083.36,273.9 1083.67,272.41 1083.99,275.71 1084.3,277.71 1084.62,277.07 1084.93,274.31 1085.25,272.33 1085.56,275.27 1085.88,275.77 1086.19,272.65 1086.51,271.04 1086.82,273 1087.14,276.72 1087.45,278.92 1087.76,281.01 1088.08,277.76 1088.39,273.64 1088.71,272.21 1089.02,273.75 1089.34,271.79 1089.65,272.73 1089.97,271.86 1090.28,275.63 1090.6,278.87 1090.91,283.31 1091.22,286.97 1091.54,285.54 1091.85,280.31 1092.17,273.74 1092.48,270.3 1092.8,273.55 1093.11,277.63 1093.43,279.68 1093.74,276.74 1094.06,274.69 1094.37,278.22 1094.69,279.07 1095,281.28 1095.31,275.62 1095.63,276.03 1095.94,274.58 1096.26,271.97 1096.57,272.02 1096.89,272.59 1097.2,278.23 1097.52,280.15 1097.83,279.31 1098.15,276.38 1098.46,276.62 1098.78,279.38 1099.09,281.67 1099.4,277.66 1099.72,274.64 1100.03,275.11 1100.35,272.1 1100.66,272.35 1100.98,276.51 1101.29,282.07 1101.61,283.85 1101.92,283.46 1102.24,282.14 1102.55,279.81 1102.86,273.35 1103.18,275.24 1103.49,278.51 1103.81,279.45 1104.12,277.17 1104.44,280.64 1104.75,281.65 1105.07,281.98 1105.38,279.13 1105.7,277.12 1106.01,275.96 1106.33,278.01 1106.64,274.77 1106.95,277.67 1107.27,278.95 1107.58,280.32 1107.9,281.63 1108.21,279.16 1108.53,278.52 1108.84,275.07 1109.16,274.51 1109.47,273.66 1109.79,276.87 1110.1,281.69 1110.41,279.75 1110.73,278.07 1111.04,275.13 1111.36,271.42 1111.67,271.71 1111.99,276.35 1112.3,286.66 1112.62,281.23 1112.93,278.58 1113.25,279.41 1113.56,278.7 1113.88,281.26 1114.19,284.67 1114.5,284.23 1114.82,279.09 1115.13,274.66 1115.45,274.94 1115.76,275.55 1116.08,276.71 1116.39,278.4 1116.71,275.5 1117,262 1117.35,303 1117.02,273.66 1117.34,273.35 1117.65,273.01 1117.96,275.12 1118.28,276.31 1118.59,276.36 1118.91,279.62 1119.22,283.28 1119.54,281.99 1119.85,277.89 1120.17,271.99 1120.48,267.23 1120.8,272.19 1121.11,277.13 1121.42,278.01 1121.74,275.22 1122.05,276.99 1122.37,277.31 1122.68,278.57 1123,280.47 1123.31,278.23 1123.63,273.5 1123.94,272.19 1124.26,274.68 1124.57,276.58 1124.89,277.54 1125.2,278.62 1125.51,276.5 1125.83,276.98 1126.14,279.24 1126.46,277.12 1126.77,274.16 1127.09,272.95 1127.4,272.74 1127.72,273.93 1128.03,278.17 1128.35,277.06 1128.66,277.19 1128.97,276.29 1129.29,274.6 1129.6,271.79 1129.92,268.26 1130.23,262.05 1130.55,277.42 1130.86,279.2 1131.18,280.63 1131.49,277.19 1131.81,276.15 1132.12,275.33 1132.44,274.84 1132.75,272.55 1133.06,272.15 1133.38,273.16 1133.69,278.17 1134.01,281.7 1134.32,282.41 1134.64,279.01 1134.95,276.71 1135.27,277.16 1135.58,280.08 1135.9,282.18 1136.21,284.85 1136.53,282.33 1136.84,276.62 1137.15,276.29 1137.47,280.15 1137.78,282.74 1138.1,281.64 1138.41,279.23 1138.73,276.26 1139.04,274.26 1139.36,274.41 1139.67,276.52 1139.99,275.52 1140.3,276.66 1140.61,277.79 1140.93,277.63 1141.24,277.87 1141.56,276.85 1141.87,276.96 1142.19,280.08 1142.5,279.54 1142.82,279.82 1143.13,277.5 1143.45,275.53 1143.76,275.63 1144.08,275.05 1144.39,277.78 1144.7,275.84 1145.02,274.93 1145.33,275.37 1145.65,276.57 1145.96,277.07 1146.28,275.25 1146.59,275.11 1146.91,278.74 1147.22,281.22 1147.54,280.38 1147.85,275.8 1148.16,271.92 1148.48,273.68 1148.79,275.01 1149.11,275.98 1149.42,281.75 1149.74,277.83 1150.05,277.21 1150.37,271.89 1150.68,268.46 1151,275.93 1151.31,282.8" fill="none" stroke="#6e6e6e" stroke-width="0.55" stroke-linejoin="round" stroke-linecap="round" stroke-linecap="butt" stroke-linejoin="miter"/>
<polyline points="868.5,309.54 868.81,309.12 869.13,309.48 869.44,304.64 869.76,305.06 870.07,306.09 870.39,304.35 870.7,305.52 871.02,304.24 871.33,305.6 871.65,304.24 871.96,305.68 872.27,302.11 872.59,304.51 872.9,302.61 873.22,304.4 873.53,302.84 873.85,304.69 874.16,305.25 874.48,304.71 874.79,303.55 875.11,304.26 875.42,304.74 875.74,305.37 876.05,306.99 876.36,304.93 876.68,305.64 876.99,305.33 877.31,304.78 877.62,303.26 877.94,305.16 878.25,303.16 878.57,301.85 878.88,302.51 879.2,303.84 879.51,303.14 879.82,303.75 880.14,302.98 880.45,301.9 880.77,300.76 881.08,301.32 881.4,302.17 881.71,300.39 882.03,301.95 882.34,301.47 882.66,303.8 882.97,300.51 883.29,305.29 883.6,303.81 883.91,302.67 884.23,303.43 884.54,305.2 884.86,304.52 885.17,303.79 885.49,303.88 885.8,303.28 886.12,305.56 886.43,306.54 886.75,305.9 887.06,306.37 887.37,305.83 887.69,307.23 888,308.01 888.32,306.48 888.63,308.95 888.95,308.29 889.26,309.49 889.58,309.34 889.89,310.07 890.21,310.32 890.52,310.94 890.84,309.25 891.15,309.84 891.46,308.6 891.78,309.83 892.09,310.85 892.41,309.29 892.72,310.58 893.04,308.91 893.35,309.71 893.67,310.55 893.98,309.47 894.3,309.41 894.61,310.02 894.92,308.85 895.24,308.79 895.55,307.08 895.87,306.21 896.18,307.44 896.5,305.12 896.81,307.09 897.13,304.85 897.44,305.35 897.76,305.5 898.07,303.08 898.39,305.91 898.7,303.7 899.01,303.85 899.33,303.34 899.64,303.04 899.96,303.3 900.27,304.52 900.59,306.52 900.9,305.8 901.22,307.92 901.53,305.58 901.85,304.3 902.16,305.73 902.47,304.26 902.79,302.34 903.1,304.69 903.42,302.77 903.73,300.29 904.05,300.58 904.36,299.44 904.68,300.96 904.99,300.56 905.31,302.01 905.62,304.52 905.94,307.43 906.25,308.77 906.56,308.84 906.88,310.06 907.19,311.29 907.51,314.52 907.82,313.89 908.14,316.17 908.45,315.63 908.77,312.89 909.08,309.71 909.4,310.38 909.71,308.76 910.02,307.29 910.34,306.39 910.65,306.56 910.97,302.81 911.28,301.76 911.6,301.6 911.91,301.41 912.23,298.25 912.54,298.76 912.86,300.62 913.17,300.11 913.49,302.03 913.8,304.54 914.11,305.22 914.43,305.72 914.74,307.59 915.06,308.83 915.37,310.02 915.69,309.33 916,308.27 916.32,306.56 916.63,306.28 916.95,305.69 917.26,304.24 917.57,305.26 917.89,302.11 918.2,299.27 918.52,302.05 918.83,299.36 919.15,299.32 919.46,297.76 919.78,298.12 920.09,295.62 920.41,295.88 920.72,296.03 921.04,294.09 921.35,291.65 921.66,293.44 921.98,291.9 922.29,292.04 922.61,292.03 922.92,295.32 923.24,296.48 923.55,298.56 923.87,299.73 924.18,302.75 924.5,302.78 924.81,303.62 925.12,303.22 925.44,303.61 925.75,303.46 926.07,301.23 926.38,301.09 926.7,302.78 927.01,301.19 927.33,303.77 927.64,300.28 927.96,298.73 928.27,298.67 928.59,293.22 928.9,294.5 929.21,286.6 929.53,277.45 929.84,273.36 930.16,269.12 930.47,264.1 930.79,262.36 931.1,259.79 931.42,258.44 931.73,254.97 932.05,257.56 932.36,260.52 932.67,257.85 932.99,257.6 933.3,252.92 933.62,250.57 933.93,256.78 934.25,252.75 934.56,255.63 934.88,257.17 935.19,270.99 935.51,275.95 935.82,270.29 936.14,274.75 936.45,276.9 936.76,279.95 937.08,282.41 937.39,281.39 937.71,282.59 938.02,285.64 938.34,281.2 938.65,286.67 938.97,288.19 939.28,290.11 939.6,289.13 939.91,291.12 940.22,291.55 940.54,294.69 940.85,294.46 941.17,301.99 941.48,296.58 941.8,299.07 942.11,294.88 942.43,294.38 942.74,295.82 943.06,292.89 943.37,296.35 943.69,292.45 944,286.68 944.31,289.66 944.63,279.85 944.94,281.76 945.26,278.44 945.57,277.5 945.89,273.57 946.2,271.7 946.52,269.37 946.83,272.79 947.15,272.69 947.46,276.5 947.77,284 948.09,286.41 948.4,289.5 948.72,293.07 949.03,297.59 949.35,304.37 949.66,307.46 949.98,317.39 950.29,300.77 950.61,283.55 950.92,274.37 951.24,271.19 951.55,269.8 951.86,268.97 952.18,268.33 952.49,269.86 952.81,269.13 953.12,263.68 953.44,270.31 953.75,273.09 954.07,280.07 954.38,280.61 954.7,284.38 955.01,286.1 955.32,290.76 955.64,291.99 955.95,294.73 956.27,292.63 956.58,295.39 956.9,298.23 957.21,293.13 957.53,297.87 957.84,296.71 958.16,294.55 958.47,295.63 958.79,296.54 959.1,293.82 959.41,296.36 959.73,293.16 960.04,295.85 960.36,292.65 960.67,294.85 960.99,294.05 961.3,293.06 961.62,292.91 961.93,295.2 962.25,291.28 962.56,286.02 962.87,286.33 963.19,286.86 963.5,285.03 963.82,280.21 964.13,280.17 964.45,277.44 964.76,274.85 965.08,272.56 965.39,271.46 965.71,271.65 966.02,264.36 966.34,267.42 966.65,264.37 966.96,262.03 967.28,266.3 967.59,266.43 967.91,265.91 968.22,269.5 968.54,268.88 968.85,272.29 969.17,272.84 969.48,271.39 969.8,271.55 970.11,269.33 970.42,271.17 970.74,273.52 971.05,275.14 971.37,268.67 971.68,272.51 972,272.2 972.31,276.39 972.63,273.05 972.94,275.48 973.26,272.01 973.57,272.98 973.89,275.58 974.2,274.68 974.51,274.84 974.83,277.04 975.14,277.7 975.46,278.97 975.77,281.05 976.09,279.25 976.4,280.18 976.72,280.05 977.03,282.36 977.35,284.03 977.66,284.73 977.97,281.99 978.29,285.49 978.6,285.38 978.92,285.82 979.23,285.86 979.55,286.95 979.86,286.8 980.18,286.21 980.49,285.35 980.81,282.71 981.12,282.55 981.44,280.67 981.75,281.48 982.06,279.64 982.38,277.51 982.69,278.46 983.01,278.02 983.32,274.24 983.64,276.12 983.95,274.28 984.27,274.08 984.58,272.59 984.9,273.66 985.21,274.21 985.52,275.92 985.84,275.46 986.15,275.99 986.47,276.21 986.78,276.77 987.1,276.41 987.41,278.04 987.73,275.42 988.04,276.75 988.36,277.48 988.67,277.36 988.99,279.42 989.3,278.27 989.61,277.45 989.93,279.08 990.24,279.65 990.56,279.87 990.87,280.52 991.19,281.15 991.5,282.67 991.82,282.48 992.13,283.4 992.45,283.58 992.76,285.16 993.07,284.73 993.39,285.44 993.7,286.61 994.02,287.33 994.33,287.76 994.65,286.19 994.96,285.25 995.28,288.05 995.59,284.21 995.91,284.26 996.22,283.17 996.54,284.06 996.85,283.31 997.16,280.92 997.48,283.24 997.79,281.4 998.11,282.26 998.42,281.63 998.74,280.34 999.05,280.67 999.37,278.68 999.68,278.85 1000,278.5 1000.31,278.78 1000.62,279.13 1000.94,278.85 1001.25,278.36 1001.57,279.28 1001.88,278.46 1002.2,279.45 1002.51,278.1 1002.83,277.85 1003.14,280.67 1003.46,277.79 1003.77,279.53 1004.09,280.23 1004.4,279.49 1004.71,279.28 1005.03,278.87 1005.34,278.92 1005.66,278.31 1005.97,279.42 1006.29,279.6 1006.6,277.86 1006.92,276.93 1007.23,280.86 1007.55,277.93 1007.86,276.9 1008.17,276.63 1008.49,277.83 1008.8,277.95 1009.12,275.85 1009.43,276.04 1009.75,276.48 1010.06,275.33 1010.38,275.7 1010.69,275.47 1011.01,275.45 1011.32,275.38 1011.64,274.38 1011.95,273.49 1012.26,272.84 1012.58,274.02 1012.89,273.43 1013.21,274.05 1013.52,274.38 1013.84,274.63 1014.15,275.61 1014.47,275.28 1014.78,275.25 1015.1,276.64 1015.41,275.53 1015.72,277.1 1016.04,275.62 1016.35,275.73 1016.67,274.38 1016.98,275.05 1017.3,274.02 1017.61,275.67 1017.93,274.48 1018.24,275.23 1018.56,274.28 1018.87,272.86 1019.19,271.58 1019.5,273.14 1019.81,272.55 1020.13,272.42 1020.44,272.81 1020.76,272.63 1021.07,272.5 1021.39,273.16 1021.7,272.54 1022.02,272.54 1022.33,273.06 1022.65,274.48 1022.96,274.32 1023.27,273.72 1023.59,274.52 1023.9,274.88 1024.22,273.71 1024.53,276.24 1024.85,274.63 1025.16,274.23 1025.48,275.35 1025.79,275.62 1026.11,276.7 1026.42,276.67 1026.74,275.03 1027.05,274.66 1027.36,274.55 1027.68,274.27 1027.99,273.46 1028.31,273.87 1028.62,274.68 1028.94,274.13 1029.25,272.86 1029.57,271.85 1029.88,273.09 1030.2,273.26 1030.51,270.86 1030.82,272.14 1031.14,273.02 1031.45,272.67 1031.77,272.45 1032.08,272.05 1032.4,271.77 1032.71,272.67 1033.03,273.55 1033.34,273.31 1033.66,273.55 1033.97,272.96 1034.29,273.02 1034.6,274.49 1034.91,273.21 1035.23,272.96 1035.54,270.93 1035.86,269.55 1036.17,269.6 1036.49,268.77 1036.8,265.25 1037.12,266.05 1037.43,266.11 1037.75,265.17 1038.06,264.52 1038.37,265.53 1038.69,266.05 1039,266.86 1039.32,264.38 1039.63,265.98 1039.95,265.55 1040.26,267.93 1040.58,266.59 1040.89,265.5 1041.21,267.01 1041.52,267.24 1041.84,267.47 1042.15,267.59 1042.46,266.6 1042.78,266.63 1043.09,268.54 1043.41,268.94 1043.72,269.35 1044.04,268.94 1044.35,271.56 1044.67,272.16 1044.98,273.38 1045.3,273.41 1045.61,273.62 1045.92,273.69 1046.24,274.19 1046.55,272.92 1046.87,272.68 1047.18,271.4 1047.5,272.07 1047.81,270.29 1048.13,269.96 1048.44,268.81 1048.76,267.75 1049.07,265.61 1049.39,266.08 1049.7,265.22 1050.01,265.65 1050.33,263.05 1050.64,263.74 1050.96,263.03 1051.27,262.57 1051.59,262.63 1051.9,263.49 1052.22,263.05 1052.53,264.83 1052.85,261.13 1053.16,262.38 1053.47,264.79 1053.79,263.64 1054.1,261.81 1054.42,261.66 1054.73,262.59 1055.05,262.97 1055.36,263.11 1055.68,264.62 1055.99,265.36 1056.31,265.13 1056.62,266.41 1056.94,266.58 1057.25,268.11 1057.56,266.86 1057.88,268.32 1058.19,268.97 1058.51,269.96 1058.82,268.85 1059.14,270.25 1059.45,269.7 1059.77,271.78 1060.08,272.06 1060.4,272.73 1060.71,271.03 1061.02,272.03 1061.34,269.7 1061.65,268.19 1061.97,268.35 1062.28,268.32 1062.6,268.66 1062.91,266.8 1063.23,266.19 1063.54,266.55 1063.86,264.49 1064.17,265.66 1064.49,264.75 1064.8,262.96 1065.11,263.15 1065.43,262.09 1065.74,261.35 1066.06,261.86 1066.37,261.57 1066.69,262.74 1067,262.27 1067.32,261.12 1067.63,262.78 1067.95,263.38 1068.26,263.27 1068.57,262.07 1068.89,262.9 1069.2,262.59 1069.52,263.58 1069.83,263.4 1070.15,264.9 1070.46,264.68 1070.78,266.6 1071.09,265.2 1071.41,263.81 1071.72,265 1072.04,266.8 1072.35,265.28 1072.66,265.87 1072.98,266.69 1073.29,267.28 1073.61,267.23 1073.92,266.36 1074.24,265.61 1074.55,266.19 1074.87,267.19 1075.18,265.56 1075.5,267.02 1075.81,268.25 1076.12,266.16 1076.44,267.86 1076.75,267.29 1077.07,267.95 1077.38,269.53 1077.7,270.34 1078.01,270.4 1078.33,271.48 1078.64,272.31 1078.96,273.79 1079.27,272.18 1079.59,272.25 1079.9,274.47 1080.21,273.86 1080.53,272.76 1080.84,273.88 1081.16,274.77 1081.47,273.29 1081.79,273.96 1082.1,274.47 1082.42,273.36 1082.73,273.09 1083.05,274.69 1083.36,274.13 1083.67,274.39 1083.99,273.54 1084.3,274.1 1084.62,273.82 1084.93,272.56 1085.25,272.01 1085.56,270.69 1085.88,270.39 1086.19,269.31 1086.51,269.83 1086.82,269.38 1087.14,268.18 1087.45,267.16 1087.76,267.51 1088.08,267.94 1088.39,268.27 1088.71,265.57 1089.02,266.84 1089.34,267.55 1089.65,265.63 1089.97,265.71 1090.28,266.49 1090.6,265.73 1090.91,264.67 1091.22,264.25 1091.54,264.46 1091.85,264.61 1092.17,264.57 1092.48,264.85 1092.8,263.29 1093.11,264.09 1093.43,263.84 1093.74,263.4 1094.06,264.34 1094.37,263.82 1094.69,264.36 1095,263.64 1095.31,263.57 1095.63,263.95 1095.94,265.86 1096.26,264.93 1096.57,264.95 1096.89,264.25 1097.2,265.11 1097.52,264.18 1097.83,265.46 1098.15,265.27 1098.46,264.85 1098.77,265.64 1099.09,264.23 1099.4,264.21 1099.72,265.71 1100.03,264.29 1100.35,264.02 1100.66,266.02 1100.98,265.55 1101.29,265.41 1101.61,265.02 1101.92,264.11 1102.24,265.3 1102.55,264.91 1102.86,264.35 1103.18,264.94 1103.49,265.08 1103.81,264.66 1104.12,265.22 1104.44,264.91 1104.75,263.55 1105.07,264.73 1105.38,263.96 1105.7,265.4 1106.01,261.86 1106.32,263.81 1106.64,264.42 1106.95,264.72 1107.27,263.03 1107.58,263.76 1107.9,264 1108.21,263.15 1108.53,264.03 1108.84,262.89 1109.16,262.76 1109.47,264.19 1109.79,262.56 1110.1,262.83 1110.41,264.72 1110.73,263.92 1111.04,262.56 1111.36,263.04 1111.67,262.12 1111.99,261.76 1112.3,262.15 1112.62,261.4 1112.93,259.45 1113.25,256.72 1113.56,253.86 1113.87,254.87 1114.19,251.64 1114.5,251.6 1114.82,250.43 1115.13,249.65 1115.45,247.04 1115.76,245.58 1116.08,244.68 1116.39,244.32 1116.71,243.98 1117.02,243.16 1117.34,244.64 1117.65,243.84 1117.96,244.74 1118.28,244.82 1118.59,245.64 1118.91,247.52 1119.22,246.04 1119.54,246.45 1119.85,247.65 1120.17,249.58 1120.48,250.74 1120.8,252.05 1121.11,250.77 1121.42,250.47 1121.74,251.31 1122.05,252.44 1122.37,251.94 1122.68,251.97 1123,251.52 1123.31,251.83 1123.63,250.52 1123.94,251.77 1124.26,251.37 1124.57,251.46 1124.89,250.76 1125.2,251.1 1125.51,251.27 1125.83,253.13 1126.14,251.26 1126.46,252.31 1126.77,253.13 1127.09,252.23 1127.4,253.71 1127.72,254.72 1128.03,254.68 1128.35,253.58 1128.66,254.81 1128.97,254.35 1129.29,253.41 1129.6,256.4 1129.92,256.55 1130.23,255.3 1130.55,257.52 1130.86,257.65 1131.18,259.1 1131.49,257.43 1131.81,258.05 1132.12,256.28 1132.44,256.06 1132.75,257.5 1133.06,256.35 1133.38,256.76 1133.69,255 1134.01,254.86 1134.32,255.27 1134.64,253.78 1134.95,254.65 1135.27,252.72 1135.58,251.96 1135.9,252.92 1136.21,253.47 1136.52,254.34 1136.84,252.33 1137.15,252.31 1137.47,251.73 1137.78,251.87 1138.1,253.03 1138.41,252.96 1138.73,253.26 1139.04,253.69 1139.36,253.65 1139.67,254.89 1139.99,256.24 1140.3,254.33 1140.61,257.27 1140.93,254.3 1141.24,255.18 1141.56,257.48 1141.87,257.05 1142.19,259.65 1142.5,258.78 1142.82,256.67 1143.13,257.51 1143.45,257.39 1143.76,257.53 1144.07,255.75 1144.39,254.58 1144.7,254.34 1145.02,255.72 1145.33,255.51 1145.65,252.75 1145.96,254.02 1146.28,252.78 1146.59,253.01 1146.91,253.07 1147.22,251.86 1147.54,251.56 1147.85,249.69 1148.16,250.8 1148.48,251.59 1148.79,250.08 1149.11,251.42 1149.42,252.03 1149.74,254.11 1150.05,252.06 1150.37,253.96 1150.68,253.79 1151,254.34 1151.31,254.88 1151.62,255.42 1151.94,257.59 1152.25,271.06 1152.4,277.3 1319.7,277.3" fill="none" stroke="#0000ff" stroke-width="3.6" stroke-linejoin="round" stroke-linecap="round" />
<line x1="868.5" y1="277.5" x2="1321.5" y2="277.5" stroke="#000" stroke-width="1.05" stroke-dasharray="20.4 12.9"/>
<line x1="1167.3" y1="143" x2="1167.3" y2="418" stroke="#00ffff" stroke-width="3" />
<rect x="1161.1" y="104.3" width="110" height="38.9" fill="#fff" stroke="#00ffff" stroke-width="1.1"/>
<text x="1167.5" y="131" font-size="20.83" fill="#000" text-anchor="start" font-weight="normal" >time now</text>
<line x1="868.5" y1="108" x2="868.5" y2="418.5" stroke="#0000ff" stroke-width="1.05" />
<line x1="868" y1="418.5" x2="1322" y2="418.5" stroke="#262626" stroke-width="1.05" />
<line x1="1321.5" y1="108" x2="1321.5" y2="418.5" stroke="#262626" stroke-width="1.05" />
<line x1="868.5" y1="418.5" x2="868.5" y2="414" stroke="#262626" stroke-width="1.05" />
<text x="867.6" y="447.5" font-size="20.83" fill="#262626" text-anchor="middle" font-weight="normal" >0</text>
<line x1="925.5" y1="418.5" x2="925.5" y2="414" stroke="#262626" stroke-width="1.05" />
<text x="924.23" y="447.5" font-size="20.83" fill="#262626" text-anchor="middle" font-weight="normal" >3</text>
<line x1="981.5" y1="418.5" x2="981.5" y2="414" stroke="#262626" stroke-width="1.05" />
<text x="980.85" y="447.5" font-size="20.83" fill="#262626" text-anchor="middle" font-weight="normal" >6</text>
<line x1="1038.5" y1="418.5" x2="1038.5" y2="414" stroke="#262626" stroke-width="1.05" />
<text x="1037.47" y="447.5" font-size="20.83" fill="#262626" text-anchor="middle" font-weight="normal" >9</text>
<line x1="1095.5" y1="418.5" x2="1095.5" y2="414" stroke="#262626" stroke-width="1.05" />
<text x="1094.1" y="447.5" font-size="20.83" fill="#262626" text-anchor="middle" font-weight="normal" >12</text>
<line x1="1151.5" y1="418.5" x2="1151.5" y2="414" stroke="#262626" stroke-width="1.05" />
<text x="1150.72" y="447.5" font-size="20.83" fill="#262626" text-anchor="middle" font-weight="normal" >15</text>
<line x1="1208.5" y1="418.5" x2="1208.5" y2="414" stroke="#262626" stroke-width="1.05" />
<text x="1207.35" y="447.5" font-size="20.83" fill="#262626" text-anchor="middle" font-weight="normal" >18</text>
<line x1="1264.5" y1="418.5" x2="1264.5" y2="414" stroke="#262626" stroke-width="1.05" />
<text x="1263.97" y="447.5" font-size="20.83" fill="#262626" text-anchor="middle" font-weight="normal" >21</text>
<line x1="1321.5" y1="418.5" x2="1321.5" y2="414" stroke="#262626" stroke-width="1.05" />
<text x="1320.6" y="447.5" font-size="20.83" fill="#262626" text-anchor="middle" font-weight="normal" >24</text>
<line x1="868.5" y1="156.5" x2="873" y2="156.5" stroke="#0000ff" stroke-width="1.05" />
<text x="858.1" y="164.8" font-size="20.83" fill="#0000ff" text-anchor="end" font-weight="normal" >100</text>
<line x1="868.5" y1="217.5" x2="873" y2="217.5" stroke="#0000ff" stroke-width="1.05" />
<text x="858.1" y="225.05" font-size="20.83" fill="#0000ff" text-anchor="end" font-weight="normal" >50</text>
<line x1="868.5" y1="277.5" x2="873" y2="277.5" stroke="#0000ff" stroke-width="1.05" />
<text x="858.1" y="285.3" font-size="20.83" fill="#0000ff" text-anchor="end" font-weight="normal" >0</text>
<line x1="868.5" y1="337.5" x2="873" y2="337.5" stroke="#0000ff" stroke-width="1.05" />
<text x="858.1" y="345.55" font-size="20.83" fill="#0000ff" text-anchor="end" font-weight="normal" >-50</text>
<line x1="868.5" y1="397.5" x2="873" y2="397.5" stroke="#0000ff" stroke-width="1.05" />
<text x="858.1" y="405.8" font-size="20.83" fill="#0000ff" text-anchor="end" font-weight="normal" >-100</text>
<line x1="1321.5" y1="156.5" x2="1317" y2="156.5" stroke="#262626" stroke-width="1.05" />
<text x="1329.6" y="164.6" font-size="20.83" fill="#262626" text-anchor="start" font-weight="normal" >10</text>
<line x1="1321.5" y1="217.5" x2="1317" y2="217.5" stroke="#262626" stroke-width="1.05" />
<text x="1329.6" y="224.85" font-size="20.83" fill="#262626" text-anchor="start" font-weight="normal" >5</text>
<line x1="1321.5" y1="277.5" x2="1317" y2="277.5" stroke="#262626" stroke-width="1.05" />
<text x="1329.6" y="285.1" font-size="20.83" fill="#262626" text-anchor="start" font-weight="normal" >0</text>
<line x1="1321.5" y1="337.5" x2="1317" y2="337.5" stroke="#262626" stroke-width="1.05" />
<text x="1329.6" y="345.35" font-size="20.83" fill="#262626" text-anchor="start" font-weight="normal" >-5</text>
<line x1="1321.5" y1="397.5" x2="1317" y2="397.5" stroke="#262626" stroke-width="1.05" />
<text x="1329.6" y="405.6" font-size="20.83" fill="#262626" text-anchor="start" font-weight="normal" >-10</text>
<text x="1095" y="479.2" font-size="22.92" fill="#262626" text-anchor="middle" font-weight="normal" >UT Time /h</text>
<text transform="translate(801.4,263.25) rotate(-90)" font-size="16.67" fill="#0000ff" text-anchor="middle">X Mean Magnetic Field / nT</text>
<text transform="translate(1388.7,263.25) rotate(-90)" font-size="16.67" fill="#000" text-anchor="middle">Rate of Change / nT/min</text>
<text x="1103" y="62" font-size="25" fill="#000" text-anchor="middle" font-weight="normal" >Eyrewell</text>
<rect x="1465" y="108" width="112" height="310" fill="#e6e6e6" />
<rect x="1820.75" y="108" width="92.75" height="310" fill="#e6e6e6" />
<text x="1464.5" y="100" font-size="12.5" fill="#000" text-anchor="start" font-weight="normal" >File Updated:17-Apr-2025 15:49:02 UTC</text>
<text x="1907" y="107.2" font-size="14.58" fill="#000" text-anchor="end" font-weight="normal" >minute resolution</text>
<line x1="1465" y1="200.36" x2="1914" y2="200.36" stroke="#ff0000" stroke-width="3.1" />
<line x1="1465" y1="332.84" x2="1914" y2="332.84" stroke="#ff0000" stroke-width="3.1" />
<line x1="1465" y1="211.4" x2="1914" y2="211.4" stroke="#ffff00" stroke-width="3.1" />
<line x1="1465" y1="321.8" x2="1914" y2="321.8" stroke="#ffff00" stroke-width="3.1" />
<line x1="1465" y1="227.96" x2="1914" y2="227.96" stroke="#00ff00" stroke-width="3.1" />
<line x1="1465" y1="305.24" x2="1914" y2="305.24" stroke="#00ff00" stroke-width="3.1" />
<polyline points="1464.5,266.12 1464.81,266.06 1465.12,266.35 1465.44,263.18 1465.75,264.36 1466.06,262.3 1466.38,266.16 1466.69,269.06 1467,269.2 1467.31,265.08 1467.62,261.38 1467.94,263.11 1468.25,268.28 1468.56,274.21 1468.88,271.61 1469.19,268.36 1469.5,266.1 1469.81,263.73 1470.12,263.39 1470.44,262.73 1470.75,264.46 1471.06,265.52 1471.38,266.11 1471.69,269.58 1472,268.13 1472.31,266.87 1472.62,264.77 1472.94,263.74 1473.25,264.35 1473.56,265.74 1473.88,267.38 1474.19,266.4 1474.5,267.24 1474.81,263.31 1475.12,262.25 1475.44,260.9 1475.75,265.27 1476.06,270.83 1476.38,270.9 1476.69,273.02 1477,272 1477.31,265.96 1477.62,263.81 1477.94,261.84 1478.25,260.51 1478.56,257.95 1478.88,260.8 1479.19,265.86 1479.5,266.86 1479.81,268.6 1480.12,269.53 1480.44,269.91 1480.75,270.01 1481.06,266.99 1481.38,265.94 1481.69,266.73 1482,265.91 1482.31,265.13 1482.62,262.81 1482.94,263.64 1483.25,263.14 1483.56,265.33 1483.88,267.31 1484.19,267.75 1484.5,268.73 1484.81,267.72 1485.12,270.12 1485.44,270.7 1485.75,266.83 1486.06,263.5 1486.38,263.79 1486.69,268.78 1487,269.37 1487.31,271.6 1487.62,270.95 1487.94,271.33 1488.25,268.21 1488.56,264.16 1488.88,262.27 1489.19,263.28 1489.5,263.34 1489.81,262.34 1490.12,265.21 1490.44,273.16 1490.75,278.99 1491.06,272.07 1491.38,272.82 1491.69,259.2 1492,259.75 1492.31,264.68 1492.62,279.74 1492.94,276.75 1493.25,280.99 1493.56,280.76 1493.88,274.25 1494.19,272.77 1494.5,263.04 1494.81,260.81 1495.12,264.7 1495.44,257.5 1495.75,261.15 1496.06,268.67 1496.38,277.73 1496.69,278 1497,280.9 1497.31,282.43 1497.62,280.25 1497.94,251.62 1498.25,243.08 1498.5,238.4 1498.85,290 1498.56,250.69 1498.88,262.33 1499.19,263.91 1499.5,271.93 1499.81,271.19 1500.12,267.75 1500.44,267.69 1500.75,274.6 1501.06,272.28 1501.38,261.9 1501.69,260.87 1502,264.32 1502.31,254.97 1502.62,251.01 1502.94,256.46 1503.25,252.54 1503.56,264.38 1503.88,263.83 1504.19,270.05 1504.5,265.14 1504.81,260.43 1505.12,256.23 1505.44,256.36 1505.75,248.78 1506.06,248 1506.38,261.45 1506.69,274.19 1507,291.05 1507.31,276.96 1507.62,273.72 1507.94,269.5 1508.25,257.36 1508.56,245.54 1508.88,245.1 1509.19,255.19 1509.5,262.66 1509.81,278.38 1510,245 1510.35,293 1510.12,281.12 1510.44,271.7 1510.75,258.24 1511.06,247.11 1511.38,249.01 1511.69,256.81 1512,260.09 1512.31,266.9 1512.62,265.65 1512.94,261.98 1513.25,268.81 1513.56,278.61 1513.88,275.93 1514.19,281.54 1514.5,275.07 1514.81,275.44 1515.12,272.82 1515.44,265.55 1515.75,261.73 1516.06,259.38 1516.38,262.69 1516.69,265.7 1517,266.74 1517.31,261.04 1517.62,263.22 1517.94,271.88 1518,242 1518.35,292 1518.25,267.48 1518.56,264.61 1518.88,269.65 1519.19,276.6 1519.5,270.61 1519.81,281.81 1520.12,275.92 1520.44,273.19 1520.75,271.09 1521.06,285.01 1521.38,280.26 1521.69,280.01 1522,277.08 1522.31,265.07 1522.62,254.7 1522.94,246.22 1523.25,253.16 1523.56,265.03 1523.88,251.55 1524.19,257.79 1524.5,269.63 1524.81,294.67 1525.12,296.89 1525.44,271.11 1525.75,266.38 1526.06,280.53 1526.38,246.84 1526.6,172.6 1526.95,409.9 1526.69,255 1527,274.54 1527.31,274.32 1527.62,254.67 1527.94,242.77 1528.25,264.63 1528.3,141.3 1528.65,366.7 1528.56,281.35 1528.88,296.13 1529.19,283.81 1529.5,246.78 1529.81,221.81 1530.12,263.17 1530.44,302.09 1530.75,318.46 1531.06,313.07 1531.38,288.5 1531.69,261.91 1532,243.24 1532.31,249.6 1532.62,257.82 1532.94,266.78 1533.25,278.52 1533.56,289.23 1533.88,291.27 1534.19,284.85 1534.5,279.99 1534.81,290.22 1535.12,305.4 1535.44,319.75 1535.75,292.71 1536.06,272.43 1536.3,198.5 1536.65,330 1536.38,260.46 1536.69,288.5 1537,320.35 1537.31,321.65 1537.62,330.41 1537.94,329.6 1538.25,281.93 1538.56,261.09 1538.88,257.12 1539.19,253.39 1539.5,280.89 1539.81,299.63 1540.12,272.35 1540.44,240.82 1540.75,231.68 1541.06,261.62 1541.38,287.26 1541.69,308.55 1541.7,208.2 1542.05,345.2 1542,297.01 1542.31,298.68 1542.62,281.11 1542.94,277.66 1543.25,266.37 1543.56,254.76 1543.88,259.87 1544.19,247.19 1544.5,250.04 1544.81,267.23 1545.12,256.68 1545.44,254.25 1545.6,116.5 1545.95,343 1545.75,255.4 1546.06,245.23 1546.38,219.24 1546.69,244.71 1547,261.57 1547.31,319.56 1547.62,367.23 1547.7,185.5 1548.05,342 1547.94,316.45 1548.25,278.15 1548.56,224.34 1548.88,248.15 1549.19,235.77 1549.5,259.3 1549.81,330.9 1549.9,230 1550.25,342 1550.12,323.13 1550.44,269.1 1550.75,231.91 1551.06,224.65 1551.38,246.3 1551.69,259.5 1552,268.63 1552.31,295.79 1552.62,304 1552.94,309.13 1553.25,291.12 1553.5,189.8 1553.85,310.6 1553.56,262.88 1553.88,244.85 1554.19,238.09 1554.5,223.33 1554.81,238.37 1555.12,257.44 1555.44,267.48 1555.75,287.92 1556.06,329.05 1556.38,309.98 1556.69,291.06 1556.8,200.6 1557.15,323.6 1557,251.49 1557.31,254.78 1557.62,260.45 1557.94,242.21 1558.25,225.44 1558.56,247.21 1558.88,257.2 1559.19,265.88 1559.5,311.98 1559.81,303.43 1560,224.3 1560.35,312.8 1560.12,276.23 1560.44,249.02 1560.75,229.73 1561.06,238.4 1561.38,256.49 1561.69,281.77 1562,285.47 1562.31,263.9 1562.62,260 1562.94,249.15 1563.25,249.76 1563.56,269.13 1563.88,273.04 1564.19,273.17 1564.5,262.33 1564.81,266.93 1565.12,276.26 1565.44,266.49 1565.75,259.23 1566.06,255.05 1566.38,262.69 1566.69,275.69 1567,280.16 1567.31,282.28 1567.62,273.6 1567.94,270.84 1568.25,266.89 1568.56,262.1 1568.88,263.33 1569.19,262.87 1569.5,266.06 1569.81,265.59 1570.12,265.39 1570.44,269.39 1570.75,274.14 1571.06,273.65 1571.38,269.79 1571.69,266.63 1572,267.11 1572.31,264.49 1572.62,273.09 1572.94,274.92 1573.25,272.55 1573.56,271.28 1573.88,270.09 1574.19,268.11 1574.5,265.17 1574.81,259.62 1575.12,257.02 1575.44,259.84 1575.75,262.26 1576.06,274.77 1576.38,270.48 1576.69,274.13 1577,270.62 1577.31,270.07 1577.62,266.35 1577.94,265.13 1578.25,264.29 1578.56,261.49 1578.88,261.44 1579.19,261.47 1579.5,264.22 1579.81,265.78 1580.12,265.56 1580.44,265.53 1580.75,265 1581.06,266.16 1581.38,266.35 1581.69,264.17 1582,264.55 1582.31,263.05 1582.62,260.32 1582.94,259.14 1583.25,262.79 1583.56,264.23 1583.88,264.08 1584.19,269.01 1584.5,270.03 1584.81,269.69 1585.12,266.62 1585.44,267.51 1585.75,270.08 1586.06,271.4 1586.38,264.74 1586.69,259.53 1587,260.21 1587.31,261.42 1587.62,261.29 1587.94,264.37 1588.25,266.69 1588.56,268.76 1588.88,266.4 1589.19,262.82 1589.5,262.58 1589.81,267.15 1590.12,270.2 1590.44,269.63 1590.75,269.42 1591.06,269.7 1591.38,266.11 1591.69,268.37 1592,270.89 1592.31,270.3 1592.62,269.03 1592.94,264.64 1593.25,265.47 1593.56,270.94 1593.88,272.35 1594.19,271.21 1594.5,268.16 1594.81,265.89 1595.12,263.01 1595.44,263.28 1595.75,266.81 1596.06,268.1 1596.38,270.08 1596.69,266.92 1597,263.83 1597.31,262.66 1597.62,263.03 1597.94,266.93 1598.25,266.76 1598.56,268.27 1598.88,266.75 1599.19,265.7 1599.5,260.55 1599.81,256.45 1600.12,259.27 1600.44,265.77 1600.75,270.56 1601.06,271.48 1601.38,271.67 1601.69,270.17 1602,269.27 1602.31,265.05 1602.62,266.97 1602.94,267.1 1603.25,264.79 1603.56,263.04 1603.88,265.55 1604.19,267.55 1604.5,268.03 1604.81,270.3 1605.12,272.06 1605.44,271.53 1605.75,267.44 1606.06,266.38 1606.38,265.16 1606.69,265.64 1607,265.94 1607.31,263 1607.62,262.23 1607.94,259.18 1608.25,262.16 1608.56,261.32 1608.88,266.44 1609.19,269.05 1609.5,273.14 1609.81,273.56 1610.12,269.87 1610.44,265.05 1610.75,266.22 1611.06,265.32 1611.38,266.54 1611.69,266.35 1612,264.72 1612.31,263.8 1612.62,263.64 1612.94,267.97 1613.25,268.47 1613.56,266.75 1613.88,261.53 1614.19,259.76 1614.5,258.02 1614.81,259.2 1615.12,257.75 1615.44,258.54 1615.75,262.37 1616.06,269.31 1616.38,267.73 1616.69,265.36 1617,267.23 1617.31,267.45 1617.62,264.51 1617.94,264.21 1618.25,262.2 1618.56,262.46 1618.88,264.76 1619.19,266.94 1619.5,266.11 1619.81,269.5 1620.12,273.19 1620.44,273.49 1620.75,273.26 1621.06,270.66 1621.38,267.85 1621.69,264.4 1622,262.49 1622.31,264.22 1622.62,265.58 1622.94,264.55 1623.25,263.57 1623.56,263.35 1623.88,260.64 1624.19,259.38 1624.5,262.79 1624.81,261.76 1625.12,263.42 1625.44,268.06 1625.75,268.63 1626.06,269.19 1626.38,268.72 1626.69,266.39 1627,262.14 1627.31,260.62 1627.62,262.82 1627.94,265.58 1628.25,267.27 1628.56,270.1 1628.88,271.13 1629.19,269.21 1629.5,268.02 1629.81,263.32 1630.12,260 1630.44,258.87 1630.75,263.29 1631.06,267.88 1631.38,270.4 1631.69,270.92 1632,268.29 1632.31,268.87 1632.62,267.32 1632.94,264.56 1633.25,265.91 1633.56,264.19 1633.88,266.53 1634.19,270.62 1634.5,271.63 1634.81,268.72 1635.12,269.39 1635.44,267.22 1635.75,264.74 1636.06,265.42 1636.38,268.16 1636.69,266.33 1637,269.9 1637.31,270.27 1637.62,270.21 1637.94,265.87 1638.25,266.55 1638.56,262.15 1638.88,260.04 1639.19,265.02 1639.5,269.92 1639.81,270.34 1640.12,267.71 1640.44,263.12 1640.75,263.59 1641.06,263.2 1641.38,264.28 1641.69,267.35 1642,267.71 1642.31,267.13 1642.62,269.12 1642.94,265.99 1643.25,264.68 1643.56,267.77 1643.88,268.49 1644.19,267.18 1644.5,266.77 1644.81,263.27 1645.12,262.54 1645.44,264.78 1645.75,266.18 1646.06,270.35 1646.38,267.53 1646.69,266.29 1647,266.23 1647.31,267.13 1647.62,265.1 1647.94,267.85 1648.25,269.19 1648.56,269.39 1648.88,268.27 1649.19,266.06 1649.5,264.7 1649.81,264.11 1650.12,264.97 1650.44,268.98 1650.75,271.49 1651.06,269.27 1651.38,266.4 1651.69,265.05 1652,264.25 1652.31,266.06 1652.62,268.02 1652.94,265.54 1653.25,265.15 1653.56,263.3 1653.88,263.45 1654.19,264.01 1654.5,264.29 1654.81,266.53 1655.12,267.17 1655.44,270.32 1655.75,270.76 1656.06,270.78 1656.38,268.14 1656.69,269.72 1657,267.78 1657.31,262.01 1657.62,260.52 1657.94,264.01 1658.25,269.03 1658.56,273.9 1658.88,265.45 1659.19,261.96 1659.5,262.07 1659.81,265.64 1660.12,269.83 1660.44,272.04 1660.75,270.94 1661.06,267.27 1661.38,259.64 1661.69,260.98 1662,262.38 1662.31,263.68 1662.62,269.6 1662.94,267.23 1663.25,264.94 1663.56,265.12 1663.88,263.83 1664.19,262 1664.5,265.55 1664.81,266.67 1665.12,266.44 1665.44,268.53 1665.75,268.33 1666.06,269.45 1666.38,264.66 1666.69,263.74 1667,268.13 1667.31,267.43 1667.62,261.8 1667.94,261.54 1668.25,266.43 1668.56,272.49 1668.88,270.71 1669.19,264.9 1669.5,257.47 1669.81,260.52 1670.12,268.59 1670.44,272.71 1670.75,273.01 1671.06,268.62 1671.38,265.11 1671.69,263.58 1672,263.69 1672.31,262.91 1672.62,263.08 1672.94,265.42 1673.25,268.2 1673.56,265.43 1673.88,269.6 1674.19,272.99 1674.5,272.31 1674.81,271.18 1675.12,266.36 1675.44,265.09 1675.75,268.61 1676.06,266.88 1676.38,264.41 1676.69,262.77 1677,264.16 1677.31,266.47 1677.62,265.29 1677.94,264.94 1678.25,260.36 1678.56,262.42 1678.88,260.69 1679.19,266.86 1679.5,267.34 1679.81,267.85 1680.12,269.93 1680.44,268.63 1680.75,265.06 1681.06,263.26 1681.38,263.77 1681.69,266.99 1682,266.51 1682.31,266.37 1682.62,268.83 1682.94,268.86 1683.25,268.03 1683.56,267.54 1683.88,267.8 1684.19,268.88 1684.5,269.26 1684.81,264.35 1685.12,262.95 1685.44,267.13 1685.75,266.98 1686.06,267.57 1686.38,266.91 1686.69,266.29 1687,268.68 1687.31,270.2 1687.62,268.72 1687.94,265.22 1688.25,267 1688.56,266.08 1688.88,265.58 1689.19,266.44 1689.5,264.36 1689.81,263.31 1690.12,264.3 1690.44,266.45 1690.75,267.2 1691.06,267.38 1691.38,266.91 1691.69,263.85 1692,263.03 1692.31,266.22 1692.62,268.28 1692.94,269.87 1693.25,270.74 1693.56,272.54 1693.88,267.96 1694.19,265.71 1694.5,262.88 1694.81,265.83 1695.12,265.51 1695.44,264.25 1695.75,262.7 1696.06,265.13 1696.38,269.01 1696.69,274.84 1697,273.24 1697.31,267.29 1697.62,263.15 1697.94,261.75 1698.25,262.47 1698.56,265.91 1698.88,268.28 1699.19,268.58 1699.5,264.24 1699.81,264.22 1700.12,265.06 1700.44,264.17 1700.75,263.87 1701.06,266.25 1701.38,267.26 1701.69,265.98 1702,265.26 1702.31,263.72 1702.62,261.62 1702.94,263.21 1703.25,266.02 1703.56,263.08 1703.88,258.83 1704.19,263.85 1704.5,277.93 1704.81,274.02 1705.12,274.28 1705.44,271.41 1705.75,265.18 1706.06,264.5 1706.38,264.55 1706.69,266.82 1707,268.35 1707.31,266.11 1707.62,265.18 1707.94,258.9 1708.25,266.72 1708.56,269.4 1708.88,270.04 1709.19,270.96 1709.5,270.98 1709.81,269.02 1710.12,265.22 1710.44,260.95 1710.75,259.8 1711.06,260.66 1711.38,263.5 1711.69,263.64 1712,265.69 1712.31,269.5 1712.62,267.77 1712.94,264.52 1713,258 1713.35,285 1713.25,264.2 1713.56,266.73 1713.88,267.51 1714.19,268.29 1714.5,266.17 1714.81,267.71 1715.12,267.02 1715.44,265.9 1715.75,265.49 1716.06,264.82 1716.38,265.26 1716.69,265.03 1717,266.8 1717.31,268.51 1717.62,267.09 1717.94,265.94 1718.25,268.97 1718.56,266.57 1718.88,264.6 1719.19,267.53 1719.5,267.9 1719.81,265.21 1720.12,264.22 1720.44,269.4 1720.75,271.29 1721.06,270.13 1721.38,267.1 1721.69,266.68 1722,267.05 1722.31,268.97 1722.62,269.3 1722.94,268.01 1723.25,267.51 1723.56,265.42 1723.88,268.87 1724.19,270.1 1724.5,269.01 1724.81,268.63 1725.12,268.87 1725.44,269.19 1725.75,269.08 1726.06,268.72 1726.38,267.57 1726.69,271.89 1727,267.18 1727.31,266.45 1727.62,262.87 1727.94,262.05 1728.25,263.36 1728.56,263.81 1728.88,268.25 1729.19,268.29 1729.5,265.54 1729.81,263.69 1730.12,263.49 1730.44,265.68 1730.75,269.26 1731.06,268.31 1731.38,270.56 1731.69,272.54 1732,271.33 1732.31,268.21 1732.62,265.34 1732.94,262.99 1733.25,259.8 1733.56,260.3 1733.88,262.09 1734.19,266.91 1734.5,268.79 1734.81,267.76 1735.12,265.27 1735.44,263.07 1735.75,264.67 1736.06,266.28 1736.38,267.18 1736.69,266.88 1737,266.44 1737.31,267.22 1737.62,268.75 1737.94,270.51 1738.25,271.27 1738.56,272.6 1738.88,272.82 1739.19,271.66 1739.5,269.38 1739.81,266.11 1740.12,263.51 1740.44,268.5 1740.75,265.12 1741.06,264.75 1741.38,264.37 1741.69,266.8 1742,269.74 1742.31,269.48 1742.62,271.97 1742.94,270.08 1743.25,268.21 1743.56,268.74 1743.88,268.95 1744.19,267.67 1744.5,270.55 1744.81,265.31 1745.12,264.18 1745.44,262.07 1745.75,266.83 1746.06,272.17 1746.38,275.27 1746.69,275.07 1747,270.87 1747.31,263.07 1747.62,261.7 1747.94,260.3 1748.25,262.36 1748.56,264.84 1748.88,268.71 1749.19,269.12 1749.5,268.92 1749.81,265.73 1750.12,264.99 1750.44,263.81 1750.75,264 1751.06,265.16 1751.38,265.67 1751.69,266.42 1752,268.73 1752.31,266.83 1752.62,261.08 1752.94,262.74 1753.25,269.91 1753.56,270.79 1753.88,271.97 1754.19,271.68 1754.5,268.87 1754.81,263.72 1755.12,266.49 1755.44,268.49 1755.75,266.37 1756.06,266.27 1756.38,266.97 1756.69,265.78 1757,269.75 1757.31,271.3 1757.62,269.97 1757.94,268.27 1758.25,270.62 1758.56,274.79 1758.88,273.31 1759.19,268.17 1759.5,267.1" fill="none" stroke="#6e6e6e" stroke-width="0.55" stroke-linejoin="round" stroke-linecap="round" stroke-linecap="butt" stroke-linejoin="miter"/>
<polyline points="1464.5,290.37 1464.81,288.87 1465.12,287 1465.44,287.72 1465.75,285.67 1466.06,287.36 1466.38,285.18 1466.69,285.51 1467,285.75 1467.31,284.35 1467.62,284.28 1467.94,285.01 1468.25,285.46 1468.56,281.78 1468.88,282.96 1469.19,284.89 1469.5,285.38 1469.81,284.05 1470.12,284.87 1470.44,284.77 1470.75,287.66 1471.06,285.17 1471.38,284.3 1471.69,284.11 1472,284.62 1472.31,287.63 1472.62,286 1472.94,288.75 1473.25,287.45 1473.56,286.92 1473.88,286.96 1474.19,286.86 1474.5,286.75 1474.81,284.44 1475.12,284.64 1475.44,284.4 1475.75,284.86 1476.06,284.22 1476.38,282.9 1476.69,283.24 1477,285.68 1477.31,285.79 1477.62,282.3 1477.94,283.4 1478.25,282.69 1478.56,281.56 1478.88,283 1479.19,281.9 1479.5,283.54 1479.81,281.97 1480.12,281.24 1480.44,278.95 1480.75,281.96 1481.06,283.24 1481.38,281.79 1481.69,283.78 1482,283.81 1482.31,281.39 1482.62,283.35 1482.94,284.16 1483.25,284.88 1483.56,284.47 1483.88,284.54 1484.19,284.42 1484.5,284.73 1484.81,285.3 1485.12,284.39 1485.44,286.49 1485.75,285.59 1486.06,286.18 1486.38,284.72 1486.69,285.38 1487,284.73 1487.31,285.23 1487.62,284.42 1487.94,284.6 1488.25,283.07 1488.56,282.85 1488.88,282.29 1489.19,280.87 1489.5,281.76 1489.81,282.74 1490.12,282.06 1490.44,279.96 1490.75,280.89 1491.06,281.13 1491.38,278.59 1491.69,280.2 1492,279.93 1492.31,280.14 1492.62,279.36 1492.94,276.95 1493.25,276.4 1493.56,280.5 1493.88,277.67 1494.19,279.78 1494.5,280.42 1494.81,279.79 1495.12,279.11 1495.44,282.49 1495.75,281.61 1496.06,282.87 1496.38,283.48 1496.69,284.65 1497,285.36 1497.31,283.37 1497.62,282.9 1497.94,283.64 1498.25,282.56 1498.56,282.46 1498.88,280.53 1499.19,279.54 1499.5,281 1499.81,279.36 1500.12,278.18 1500.44,278.01 1500.75,277.12 1501.06,278.98 1501.38,280.09 1501.69,280.07 1502,281.41 1502.31,283.62 1502.62,283.22 1502.94,286.22 1503.25,287.24 1503.56,287.56 1503.88,288.55 1504.19,290.01 1504.5,288.64 1504.81,287.28 1505.12,284.32 1505.44,282.65 1505.75,285.4 1506.06,281.24 1506.38,280.32 1506.69,277.49 1507,277.38 1507.31,276.21 1507.62,276.64 1507.94,271.67 1508.25,272.2 1508.56,274.62 1508.88,275.88 1509.19,276.92 1509.5,278.64 1509.81,278.75 1510.12,282.11 1510.44,284.46 1510.75,284.45 1511.06,283.63 1511.38,285.51 1511.69,284.6 1512,282.88 1512.31,283.3 1512.62,283.19 1512.94,283.72 1513.25,285.01 1513.56,282.86 1513.88,283.39 1514.19,283.16 1514.5,280.08 1514.81,279.18 1515.12,278.7 1515.44,277.6 1515.75,272.67 1516.06,273.8 1516.38,271.05 1516.69,271.1 1517,268.71 1517.31,268.51 1517.62,267.07 1517.94,267.46 1518.25,268.15 1518.56,268.65 1518.88,271.97 1519.19,273.08 1519.5,274.57 1519.81,275.22 1520.12,274.38 1520.44,276.72 1520.75,278.05 1521.06,278.12 1521.38,278.11 1521.69,278.16 1522,276.26 1522.31,273.04 1522.62,268.68 1522.94,260.44 1523.25,258.12 1523.56,251.5 1523.88,249.32 1524.19,242.66 1524.5,240.23 1524.81,239.98 1525.12,236.16 1525.44,239.29 1525.75,236.9 1526.06,237.77 1526.38,239.68 1526.69,233.59 1527,235.98 1527.31,239.6 1527.62,233.95 1527.94,236.05 1528.25,235.63 1528.56,234.12 1528.88,231.82 1529.19,233.06 1529.5,232.16 1529.81,236.82 1530.12,239.19 1530.44,246.38 1530.75,248.02 1531.06,253.81 1531.38,253.94 1531.69,257.06 1532,254.28 1532.31,257.97 1532.62,260.21 1532.94,262.38 1533.25,258.91 1533.56,259.93 1533.88,260.72 1534.19,266.4 1534.5,267.12 1534.81,268.05 1535.12,267.29 1535.44,272.43 1535.75,274.41 1536.06,272.9 1536.38,274.13 1536.69,277.83 1537,277.99 1537.31,280.87 1537.62,277.98 1537.94,277.79 1538.25,275.09 1538.56,273.16 1538.88,272.15 1539.19,270.66 1539.5,270.55 1539.81,267.61 1540.12,266.77 1540.44,263.7 1540.75,261.47 1541.06,264.66 1541.38,258.88 1541.69,262.33 1542,259.26 1542.31,255.74 1542.62,260.9 1542.94,263.49 1543.25,266.48 1543.56,270.55 1543.88,274.63 1544.19,282.76 1544.5,285.15 1544.81,291.92 1545.12,293.84 1545.44,296.8 1545.75,289.72 1546.06,276.22 1546.38,264.13 1546.69,257.88 1547,259.24 1547.31,256.31 1547.62,254.53 1547.94,256.3 1548.25,257.44 1548.56,255.88 1548.88,256.22 1549.19,256.67 1549.5,262.62 1549.81,258.06 1550.12,262.01 1550.44,259.21 1550.75,260.73 1551.06,258.6 1551.38,265.05 1551.69,267.36 1552,269.23 1552.31,271.58 1552.62,272.43 1552.94,274.7 1553.25,280.16 1553.56,281.26 1553.88,282.71 1554.19,281.41 1554.5,279.7 1554.81,278.17 1555.12,281.6 1555.44,275.23 1555.75,275.16 1556.06,274.4 1556.38,271.76 1556.69,270.95 1557,273.04 1557.31,272.04 1557.62,269.48 1557.94,273.88 1558.25,268.44 1558.56,268.3 1558.88,263.85 1559.19,266.39 1559.5,266.61 1559.81,262.15 1560.12,265.18 1560.44,259.75 1560.75,258.36 1561.06,259.45 1561.38,257.29 1561.69,259.02 1562,255.12 1562.31,257.18 1562.62,253.92 1562.94,257.64 1563.25,259.87 1563.56,257.89 1563.88,259.24 1564.19,260.97 1564.5,257.43 1564.81,257.43 1565.12,260.16 1565.44,260.85 1565.75,260.22 1566.06,259.3 1566.38,263.49 1566.69,259.62 1567,261.56 1567.31,262.28 1567.62,263.39 1567.94,262.58 1568.25,262.55 1568.56,265.92 1568.88,263.73 1569.19,265.97 1569.5,265.65 1569.81,265.96 1570.12,267.01 1570.44,267.43 1570.75,268.6 1571.06,266.42 1571.38,269.52 1571.69,270.25 1572,269.85 1572.31,271.05 1572.62,274.33 1572.94,274.5 1573.25,273.93 1573.56,274.16 1573.88,274.25 1574.19,276.55 1574.5,275.36 1574.81,275.62 1575.12,277.2 1575.44,274.9 1575.75,274.39 1576.06,275.92 1576.38,272.23 1576.69,273.06 1577,272.53 1577.31,271.97 1577.62,269.94 1577.94,270.22 1578.25,269.45 1578.56,270.55 1578.88,269.14 1579.19,267.08 1579.5,267.67 1579.81,266.83 1580.12,265.93 1580.44,266.11 1580.75,266.38 1581.06,265.66 1581.38,266.67 1581.69,268.19 1582,268.87 1582.31,269.49 1582.62,268.02 1582.94,269.09 1583.25,267.01 1583.56,268.97 1583.88,268.48 1584.19,270.41 1584.5,268.75 1584.81,269.51 1585.12,269.75 1585.44,271.22 1585.75,271.84 1586.06,270.76 1586.38,273.17 1586.69,272.18 1587,271.69 1587.31,272.91 1587.62,272.9 1587.94,273.86 1588.25,273.76 1588.56,275.51 1588.88,274.98 1589.19,273.85 1589.5,275.26 1589.81,275.53 1590.12,274.15 1590.44,273.91 1590.75,273.43 1591.06,271.69 1591.38,273.7 1591.69,272.6 1592,273.3 1592.31,271.47 1592.62,271.53 1592.94,271.62 1593.25,271.37 1593.56,270.44 1593.88,268.94 1594.19,271.06 1594.5,270.07 1594.81,270.57 1595.12,270.86 1595.44,270.8 1595.75,270.11 1596.06,270.27 1596.38,270.48 1596.69,268.9 1597,270.82 1597.31,269.52 1597.62,270.71 1597.94,269.69 1598.25,271.09 1598.56,270.18 1598.88,272.54 1599.19,270.79 1599.5,271.07 1599.81,270 1600.12,270.52 1600.44,270.74 1600.75,270.59 1601.06,270.51 1601.38,270.2 1601.69,271.53 1602,270.66 1602.31,270.35 1602.62,271.22 1602.94,270.21 1603.25,270.62 1603.56,270.27 1603.88,269.85 1604.19,270.31 1604.5,269.75 1604.81,269.32 1605.12,270.49 1605.44,269.9 1605.75,268.9 1606.06,269.64 1606.38,270 1606.69,270.11 1607,269.97 1607.31,269.79 1607.62,269.96 1607.94,269.02 1608.25,268.69 1608.56,269.72 1608.88,268.82 1609.19,269.11 1609.5,269.61 1609.81,269.85 1610.12,270.05 1610.44,268.56 1610.75,268.81 1611.06,269.54 1611.38,267.98 1611.69,268.11 1612,269.57 1612.31,268.62 1612.62,268.38 1612.94,269.74 1613.25,269.51 1613.56,269.83 1613.88,268.84 1614.19,268.88 1614.5,268.84 1614.81,269.36 1615.12,267.6 1615.44,268.69 1615.75,269.84 1616.06,268.74 1616.38,269.35 1616.69,269.56 1617,269.92 1617.31,269.2 1617.62,268.74 1617.94,271.65 1618.25,269.18 1618.56,271.14 1618.88,268.48 1619.19,270 1619.5,269.81 1619.81,271.51 1620.12,271.66 1620.44,270.74 1620.75,268.86 1621.06,268.71 1621.38,268.44 1621.69,268.31 1622,268.6 1622.31,267.48 1622.62,267.58 1622.94,268.63 1623.25,268.27 1623.56,265.38 1623.88,265.79 1624.19,265.93 1624.5,266.91 1624.81,265.33 1625.12,266.76 1625.44,265.26 1625.75,265.77 1626.06,263.75 1626.38,264.28 1626.69,265.42 1627,265.16 1627.31,263.35 1627.62,264.69 1627.94,265.15 1628.25,265.59 1628.56,264.7 1628.88,266.65 1629.19,264.8 1629.5,265.12 1629.81,263.64 1630.12,262.7 1630.44,261.71 1630.75,260.36 1631.06,261.28 1631.38,260.5 1631.69,259.97 1632,258.96 1632.31,258.53 1632.62,259.07 1632.94,259.18 1633.25,259.46 1633.56,260.31 1633.88,258.87 1634.19,259.26 1634.5,260.23 1634.81,260.46 1635.12,261.52 1635.44,260.28 1635.75,259.25 1636.06,259.16 1636.38,259.41 1636.69,260.14 1637,260.33 1637.31,260.14 1637.62,259.95 1637.94,260.6 1638.25,260.99 1638.56,261.84 1638.88,261.74 1639.19,261.36 1639.5,261.39 1639.81,263.79 1640.12,262.86 1640.44,263.11 1640.75,263.53 1641.06,264.76 1641.38,263.01 1641.69,262.67 1642,261.61 1642.31,261.52 1642.62,259.55 1642.94,259.77 1643.25,259.66 1643.56,259.07 1643.88,257.88 1644.19,256.91 1644.5,257.16 1644.81,255.77 1645.12,256.22 1645.44,254.39 1645.75,254.66 1646.06,256.33 1646.38,255.67 1646.69,255.74 1647,255.52 1647.31,257.61 1647.62,255.7 1647.94,256.9 1648.25,255.92 1648.56,257.06 1648.88,259.11 1649.19,259.47 1649.5,257.36 1649.81,257.35 1650.12,259.89 1650.44,258.46 1650.75,258.24 1651.06,260.39 1651.38,259.77 1651.69,259.97 1652,262.46 1652.31,261.52 1652.62,261.75 1652.94,263.21 1653.25,263.42 1653.56,264.95 1653.88,264.63 1654.19,266.3 1654.5,266.42 1654.81,267.44 1655.12,267.39 1655.44,266.65 1655.75,266.51 1656.06,265.62 1656.38,263.9 1656.69,263.7 1657,264.69 1657.31,261.78 1657.62,262.49 1657.94,261.64 1658.25,262.09 1658.56,260.85 1658.88,261.35 1659.19,260.52 1659.5,259.81 1659.81,259.02 1660.12,257.46 1660.44,258.76 1660.75,257.2 1661.06,257.62 1661.38,258.34 1661.69,259.1 1662,259.02 1662.31,259.86 1662.62,257.81 1662.94,259.66 1663.25,260.54 1663.56,259.86 1663.88,258.89 1664.19,260.29 1664.5,259.78 1664.81,259.89 1665.12,261.42 1665.44,260.68 1665.75,260.16 1666.06,260.72 1666.38,262.97 1666.69,261.04 1667,262.51 1667.31,262.45 1667.62,263.5 1667.94,262.7 1668.25,262.48 1668.56,263.02 1668.88,263.02 1669.19,266.16 1669.5,264.58 1669.81,264.49 1670.12,266.01 1670.44,265.86 1670.75,265.51 1671.06,266.46 1671.38,266.49 1671.69,267.48 1672,268.18 1672.31,266.98 1672.62,267.5 1672.94,267.71 1673.25,269.1 1673.56,268.78 1673.88,269.38 1674.19,269.8 1674.5,268.65 1674.81,269.29 1675.12,270.3 1675.44,270 1675.75,269.93 1676.06,269.14 1676.38,269.11 1676.69,268.77 1677,269.26 1677.31,269.47 1677.62,268.44 1677.94,270.51 1678.25,268.61 1678.56,268.91 1678.88,268.66 1679.19,267.28 1679.5,265.79 1679.81,267.46 1680.12,266.51 1680.44,265.5 1680.75,266.06 1681.06,265.4 1681.38,263.45 1681.69,263.63 1682,262.01 1682.31,262.97 1682.62,264.06 1682.94,262.12 1683.25,263.2 1683.56,261.19 1683.88,261.92 1684.19,262.69 1684.5,263.07 1684.81,261.91 1685.12,261.92 1685.44,262.49 1685.75,259.04 1686.06,259.4 1686.38,261.98 1686.69,262.26 1687,260.58 1687.31,259.97 1687.62,259.91 1687.94,259.54 1688.25,258.82 1688.56,259.27 1688.88,259.31 1689.19,260.07 1689.5,260.2 1689.81,260.58 1690.12,260.4 1690.44,259.33 1690.75,261.29 1691.06,258.27 1691.38,260.57 1691.69,260.88 1692,260.33 1692.31,262.35 1692.62,260.17 1692.94,260.25 1693.25,260.89 1693.56,261.75 1693.88,262.16 1694.19,261.72 1694.5,262.19 1694.81,261.18 1695.12,261.29 1695.44,261.91 1695.75,260.8 1696.06,262.04 1696.38,261.62 1696.69,262.51 1697,261.23 1697.31,261.65 1697.62,261.66 1697.94,261.87 1698.25,261.41 1698.56,262.03 1698.88,261.22 1699.19,262.74 1699.5,262.87 1699.81,262.39 1700.12,262.29 1700.44,261.8 1700.75,261.74 1701.06,262.27 1701.38,261.68 1701.69,261.43 1702,262.41 1702.31,262.23 1702.62,261.87 1702.94,261.51 1703.25,262.04 1703.56,261.51 1703.88,261.65 1704.19,262.09 1704.5,262.44 1704.81,262.44 1705.12,261.32 1705.44,262.69 1705.75,260.79 1706.06,261.52 1706.38,262.38 1706.69,262.29 1707,259.6 1707.31,258.3 1707.62,257.34 1707.94,255.76 1708.25,255.54 1708.56,253.81 1708.88,252.02 1709.19,252.01 1709.5,248.94 1709.81,249.34 1710.12,247.13 1710.44,245.46 1710.75,242.97 1711.06,241.93 1711.38,241.33 1711.69,243.66 1712,243.79 1712.31,244.87 1712.62,244.6 1712.94,246.06 1713.25,245.08 1713.56,245.11 1713.88,247.72 1714.19,248.36 1714.5,245.21 1714.81,248.78 1715.12,247.63 1715.44,247.91 1715.75,246.96 1716.06,247.51 1716.38,248.95 1716.69,247.97 1717,248.63 1717.31,248.67 1717.62,250.45 1717.94,249.73 1718.25,248.14 1718.56,248.92 1718.88,248.69 1719.19,248.83 1719.5,249.67 1719.81,251.38 1720.12,250.86 1720.44,251.67 1720.75,251.35 1721.06,251.45 1721.38,252.14 1721.69,252.34 1722,254.19 1722.31,254.41 1722.62,253.62 1722.94,254.12 1723.25,252.41 1723.56,254.18 1723.88,256.43 1724.19,254.28 1724.5,255.83 1724.81,256.47 1725.12,255.52 1725.44,255.57 1725.75,255.16 1726.06,255.91 1726.38,255.08 1726.69,256.01 1727,255.54 1727.31,254.4 1727.62,256.18 1727.94,253.72 1728.25,253.26 1728.56,253.33 1728.88,252.6 1729.19,252.75 1729.5,252.78 1729.81,253.31 1730.12,251.17 1730.44,251.1 1730.75,251.35 1731.06,251.5 1731.38,251.86 1731.69,250.68 1732,252.52 1732.31,251.18 1732.62,251.64 1732.94,252.09 1733.25,253.18 1733.56,252.74 1733.88,252.75 1734.19,252.55 1734.5,253.32 1734.81,253.74 1735.12,253.38 1735.44,253.87 1735.75,252.69 1736.06,253.94 1736.38,255.49 1736.69,255.91 1737,254.98 1737.31,253.6 1737.62,256.68 1737.94,254.77 1738.25,256.52 1738.56,253.86 1738.88,254.59 1739.19,252.98 1739.5,254.15 1739.81,253.63 1740.12,251.54 1740.44,253.01 1740.75,253.85 1741.06,251.11 1741.38,249.98 1741.69,250.77 1742,249.88 1742.31,248.68 1742.62,248.65 1742.94,249.3 1743.25,247.68 1743.56,250.1 1743.88,250.01 1744.19,249.92 1744.5,251.54 1744.81,250.14 1745.12,251.77 1745.44,250.6 1745.75,251.78 1746.06,252.93 1746.38,252.41 1746.69,253.14 1747,254.12 1747.31,255.2 1747.62,255.42 1747.94,255.17 1748.25,255 1748.56,254.49 1748.88,257.19 1749.19,257.11 1749.5,253.79 1749.81,255.94 1750.12,255.03 1750.44,255.42 1750.75,254.91 1751.06,254.33 1751.38,254.27 1751.69,254.06 1752,254.78 1752.31,253.49 1752.62,253.08 1752.94,253.99 1753.25,253.96 1753.56,253.79 1753.88,253.64 1754.19,254.55 1754.5,254.25 1754.81,253.54 1755.12,253.18 1755.44,253.84 1755.75,251.86 1756.06,252.9 1756.38,252.72 1756.69,253.39 1757,252.94 1757.31,255.12 1757.62,253.77 1757.94,253.5 1758.25,254.91 1758.56,253.15 1758.88,252.87 1759.19,254.06 1759.5,254.31 1759.81,254.98 1760.12,254.86 1760.44,256.53 1760.75,258.54 1761.06,260.56 1761.38,262.57 1761.69,264.59 1762,266.6 1762,266.6 1912.7,266.6" fill="none" stroke="#0000ff" stroke-width="3.6" stroke-linejoin="round" stroke-linecap="round" />
<line x1="1464.5" y1="266.5" x2="1914.5" y2="266.5" stroke="#000" stroke-width="1.05" stroke-dasharray="20.4 12.9"/>
<line x1="1761.6" y1="143" x2="1761.6" y2="418" stroke="#00ffff" stroke-width="3" />
<rect x="1755.4" y="104.3" width="110" height="38.9" fill="#fff" stroke="#00ffff" stroke-width="1.1"/>
<text x="1761.8" y="131" font-size="20.83" fill="#000" text-anchor="start" font-weight="normal" >time now</text>
<line x1="1464.5" y1="108" x2="1464.5" y2="418.5" stroke="#0000ff" stroke-width="1.05" />
<line x1="1464" y1="418.5" x2="1915" y2="418.5" stroke="#262626" stroke-width="1.05" />
<line x1="1914.5" y1="108" x2="1914.5" y2="418.5" stroke="#262626" stroke-width="1.05" />
<line x1="1464.5" y1="418.5" x2="1464.5" y2="414" stroke="#262626" stroke-width="1.05" />
<text x="1463.6" y="447.5" font-size="20.83" fill="#262626" text-anchor="middle" font-weight="normal" >0</text>
<line x1="1520.5" y1="418.5" x2="1520.5" y2="414" stroke="#262626" stroke-width="1.05" />
<text x="1519.85" y="447.5" font-size="20.83" fill="#262626" text-anchor="middle" font-weight="normal" >3</text>
<line x1="1577.5" y1="418.5" x2="1577.5" y2="414" stroke="#262626" stroke-width="1.05" />
<text x="1576.1" y="447.5" font-size="20.83" fill="#262626" text-anchor="middle" font-weight="normal" >6</text>
<line x1="1633.5" y1="418.5" x2="1633.5" y2="414" stroke="#262626" stroke-width="1.05" />
<text x="1632.35" y="447.5" font-size="20.83" fill="#262626" text-anchor="middle" font-weight="normal" >9</text>
<line x1="1689.5" y1="418.5" x2="1689.5" y2="414" stroke="#262626" stroke-width="1.05" />
<text x="1688.6" y="447.5" font-size="20.83" fill="#262626" text-anchor="middle" font-weight="normal" >12</text>
<line x1="1745.5" y1="418.5" x2="1745.5" y2="414" stroke="#262626" stroke-width="1.05" />
<text x="1744.85" y="447.5" font-size="20.83" fill="#262626" text-anchor="middle" font-weight="normal" >15</text>
<line x1="1802.5" y1="418.5" x2="1802.5" y2="414" stroke="#262626" stroke-width="1.05" />
<text x="1801.1" y="447.5" font-size="20.83" fill="#262626" text-anchor="middle" font-weight="normal" >18</text>
<line x1="1858.5" y1="418.5" x2="1858.5" y2="414" stroke="#262626" stroke-width="1.05" />
<text x="1857.35" y="447.5" font-size="20.83" fill="#262626" text-anchor="middle" font-weight="normal" >21</text>
<line x1="1914.5" y1="418.5" x2="1914.5" y2="414" stroke="#262626" stroke-width="1.05" />
<text x="1913.6" y="447.5" font-size="20.83" fill="#262626" text-anchor="middle" font-weight="normal" >24</text>
<line x1="1464.5" y1="156.5" x2="1469" y2="156.5" stroke="#0000ff" stroke-width="1.05" />
<text x="1454.1" y="164.2" font-size="20.83" fill="#0000ff" text-anchor="end" font-weight="normal" >100</text>
<line x1="1464.5" y1="211.5" x2="1469" y2="211.5" stroke="#0000ff" stroke-width="1.05" />
<text x="1454.1" y="219.4" font-size="20.83" fill="#0000ff" text-anchor="end" font-weight="normal" >50</text>
<line x1="1464.5" y1="266.5" x2="1469" y2="266.5" stroke="#0000ff" stroke-width="1.05" />
<text x="1454.1" y="274.6" font-size="20.83" fill="#0000ff" text-anchor="end" font-weight="normal" >0</text>
<line x1="1464.5" y1="321.5" x2="1469" y2="321.5" stroke="#0000ff" stroke-width="1.05" />
<text x="1454.1" y="329.8" font-size="20.83" fill="#0000ff" text-anchor="end" font-weight="normal" >-50</text>
<line x1="1464.5" y1="377.5" x2="1469" y2="377.5" stroke="#0000ff" stroke-width="1.05" />
<text x="1454.1" y="385" font-size="20.83" fill="#0000ff" text-anchor="end" font-weight="normal" >-100</text>
<line x1="1914.5" y1="156.5" x2="1910" y2="156.5" stroke="#262626" stroke-width="1.05" />
<text x="1922.6" y="164" font-size="20.83" fill="#262626" text-anchor="start" font-weight="normal" >10</text>
<line x1="1914.5" y1="211.5" x2="1910" y2="211.5" stroke="#262626" stroke-width="1.05" />
<text x="1922.6" y="219.2" font-size="20.83" fill="#262626" text-anchor="start" font-weight="normal" >5</text>
<line x1="1914.5" y1="266.5" x2="1910" y2="266.5" stroke="#262626" stroke-width="1.05" />
<text x="1922.6" y="274.4" font-size="20.83" fill="#262626" text-anchor="start" font-weight="normal" >0</text>
<line x1="1914.5" y1="321.5" x2="1910" y2="321.5" stroke="#262626" stroke-width="1.05" />
<text x="1922.6" y="329.6" font-size="20.83" fill="#262626" text-anchor="start" font-weight="normal" >-5</text>
<line x1="1914.5" y1="377.5" x2="1910" y2="377.5" stroke="#262626" stroke-width="1.05" />
<text x="1922.6" y="384.8" font-size="20.83" fill="#262626" text-anchor="start" font-weight="normal" >-10</text>
<text x="1689.5" y="479.2" font-size="22.92" fill="#262626" text-anchor="middle" font-weight="normal" >UT Time /h</text>
<text transform="translate(1397.4,263.25) rotate(-90)" font-size="16.67" fill="#0000ff" text-anchor="middle">X Mean Magnetic Field / nT</text>
<text transform="translate(1981.7,263.25) rotate(-90)" font-size="16.67" fill="#000" text-anchor="middle">Rate of Change / nT/min</text>
<text x="1697.6" y="62" font-size="25" fill="#000" text-anchor="middle" font-weight="normal" >Dunedin</text>
<rect x="276" y="537.5" width="112.5" height="309.5" fill="#e6e6e6" />
<rect x="633.33" y="537.5" width="93.67" height="309.5" fill="#e6e6e6" />
<rect x="869" y="537.5" width="112.75" height="309.5" fill="#e6e6e6" />
<rect x="1227.12" y="537.5" width="93.88" height="309.5" fill="#e6e6e6" />
<rect x="1465" y="537.5" width="112" height="309.5" fill="#e6e6e6" />
<rect x="1820.75" y="537.5" width="93.25" height="309.5" fill="#e6e6e6" />
<rect x="334.4" y="598.9" width="10.6" height="32" fill="#00ff00" />
<rect x="334.9" y="583.2" width="10" height="15.7" fill="#ffff00" />
<rect x="334.9" y="630.9" width="10" height="15.6" fill="#ffff00" />
<rect x="334.9" y="568" width="10" height="15.2" fill="#ff0000" />
<rect x="334.9" y="646.5" width="10" height="15.4" fill="#ff0000" />
<rect x="351.7" y="598.9" width="21.8" height="32" fill="#00ff00" />
<rect x="352.7" y="583.2" width="8.2" height="15.7" fill="#ffff00" />
<rect x="362" y="583.2" width="6.2" height="15.7" fill="#ffff00" />
<rect x="352.7" y="630.9" width="8.2" height="15.6" fill="#ffff00" />
<rect x="362" y="630.9" width="6.2" height="15.6" fill="#ffff00" />
<rect x="354" y="568" width="6.9" height="15.2" fill="#ff0000" />
<rect x="354" y="646.5" width="6.9" height="15.4" fill="#ff0000" />
<line x1="275.5" y1="692.5" x2="727.5" y2="692.5" stroke="#000" stroke-width="1.05" />
<line x1="573.5" y1="572" x2="573.5" y2="847.5" stroke="#00ffff" stroke-width="3" />
<rect x="567.3" y="533.3" width="110" height="38.9" fill="#fff" stroke="#00ffff" stroke-width="1.1"/>
<text x="573.7" y="560" font-size="20.83" fill="#000" text-anchor="start" font-weight="normal" >time now</text>
<line x1="275.5" y1="537.5" x2="275.5" y2="847.5" stroke="#262626" stroke-width="1.05" />
<line x1="275" y1="847.5" x2="728" y2="847.5" stroke="#262626" stroke-width="1.05" />
<line x1="275.5" y1="537.5" x2="280" y2="537.5" stroke="#262626" stroke-width="1.05" />
<line x1="275.5" y1="615.5" x2="280" y2="615.5" stroke="#262626" stroke-width="1.05" />
<line x1="275.5" y1="692.5" x2="280" y2="692.5" stroke="#262626" stroke-width="1.05" />
<line x1="275.5" y1="770.5" x2="280" y2="770.5" stroke="#262626" stroke-width="1.05" />
<line x1="275.5" y1="847.5" x2="280" y2="847.5" stroke="#262626" stroke-width="1.05" />
<line x1="275.5" y1="847.5" x2="275.5" y2="843" stroke="#262626" stroke-width="1.05" />
<text x="274.8" y="876.7" font-size="20.83" fill="#262626" text-anchor="middle" font-weight="normal" >0</text>
<line x1="294.5" y1="847.5" x2="294.5" y2="843" stroke="#262626" stroke-width="1.05" />
<line x1="313.5" y1="847.5" x2="313.5" y2="843" stroke="#262626" stroke-width="1.05" />
<line x1="332.5" y1="847.5" x2="332.5" y2="843" stroke="#262626" stroke-width="1.05" />
<text x="331.3" y="876.7" font-size="20.83" fill="#262626" text-anchor="middle" font-weight="normal" >3</text>
<line x1="350.5" y1="847.5" x2="350.5" y2="843" stroke="#262626" stroke-width="1.05" />
<line x1="369.5" y1="847.5" x2="369.5" y2="843" stroke="#262626" stroke-width="1.05" />
<line x1="388.5" y1="847.5" x2="388.5" y2="843" stroke="#262626" stroke-width="1.05" />
<text x="387.8" y="876.7" font-size="20.83" fill="#262626" text-anchor="middle" font-weight="normal" >6</text>
<line x1="407.5" y1="847.5" x2="407.5" y2="843" stroke="#262626" stroke-width="1.05" />
<line x1="426.5" y1="847.5" x2="426.5" y2="843" stroke="#262626" stroke-width="1.05" />
<line x1="445.5" y1="847.5" x2="445.5" y2="843" stroke="#262626" stroke-width="1.05" />
<text x="444.3" y="876.7" font-size="20.83" fill="#262626" text-anchor="middle" font-weight="normal" >9</text>
<line x1="463.5" y1="847.5" x2="463.5" y2="843" stroke="#262626" stroke-width="1.05" />
<line x1="482.5" y1="847.5" x2="482.5" y2="843" stroke="#262626" stroke-width="1.05" />
<line x1="501.5" y1="847.5" x2="501.5" y2="843" stroke="#262626" stroke-width="1.05" />
<text x="500.8" y="876.7" font-size="20.83" fill="#262626" text-anchor="middle" font-weight="normal" >12</text>
<line x1="520.5" y1="847.5" x2="520.5" y2="843" stroke="#262626" stroke-width="1.05" />
<line x1="539.5" y1="847.5" x2="539.5" y2="843" stroke="#262626" stroke-width="1.05" />
<line x1="558.5" y1="847.5" x2="558.5" y2="843" stroke="#262626" stroke-width="1.05" />
<text x="557.3" y="876.7" font-size="20.83" fill="#262626" text-anchor="middle" font-weight="normal" >15</text>
<line x1="576.5" y1="847.5" x2="576.5" y2="843" stroke="#262626" stroke-width="1.05" />
<line x1="595.5" y1="847.5" x2="595.5" y2="843" stroke="#262626" stroke-width="1.05" />
<line x1="614.5" y1="847.5" x2="614.5" y2="843" stroke="#262626" stroke-width="1.05" />
<text x="613.8" y="876.7" font-size="20.83" fill="#262626" text-anchor="middle" font-weight="normal" >18</text>
<line x1="633.5" y1="847.5" x2="633.5" y2="843" stroke="#262626" stroke-width="1.05" />
<line x1="652.5" y1="847.5" x2="652.5" y2="843" stroke="#262626" stroke-width="1.05" />
<line x1="671.5" y1="847.5" x2="671.5" y2="843" stroke="#262626" stroke-width="1.05" />
<text x="670.3" y="876.7" font-size="20.83" fill="#262626" text-anchor="middle" font-weight="normal" >21</text>
<line x1="689.5" y1="847.5" x2="689.5" y2="843" stroke="#262626" stroke-width="1.05" />
<line x1="708.5" y1="847.5" x2="708.5" y2="843" stroke="#262626" stroke-width="1.05" />
<line x1="727.5" y1="847.5" x2="727.5" y2="843" stroke="#262626" stroke-width="1.05" />
<text x="726.8" y="876.7" font-size="20.83" fill="#262626" text-anchor="middle" font-weight="normal" >24</text>
<text x="736.5" y="605.9" font-size="16.67" fill="#000" text-anchor="start" font-weight="bold" >dB/dT Alert</text>
<text x="736.5" y="760.6" font-size="16.67" fill="#0000ff" text-anchor="start" font-weight="bold" >B Alert</text>
<rect x="926.7" y="598.9" width="43" height="32" fill="#00ff00" />
<rect x="927.7" y="583.2" width="40.3" height="15.7" fill="#ffff00" />
<rect x="927.7" y="630.9" width="40.3" height="15.6" fill="#ffff00" />
<rect x="928.1" y="568" width="10.3" height="15.2" fill="#ff0000" />
<rect x="944" y="568" width="21.9" height="15.2" fill="#ff0000" />
<rect x="928.1" y="646.5" width="10.3" height="15.4" fill="#ff0000" />
<rect x="944" y="646.5" width="21.9" height="15.4" fill="#ff0000" />
<rect x="905.9" y="754" width="7.1" height="32" fill="#00ff00" />
<rect x="947.7" y="754" width="6.3" height="32" fill="#00ff00" />
<line x1="868.5" y1="692.5" x2="1321.5" y2="692.5" stroke="#000" stroke-width="1.05" />
<line x1="1167.3" y1="572" x2="1167.3" y2="847.5" stroke="#00ffff" stroke-width="3" />
<rect x="1161.1" y="533.3" width="110" height="38.9" fill="#fff" stroke="#00ffff" stroke-width="1.1"/>
<text x="1167.5" y="560" font-size="20.83" fill="#000" text-anchor="start" font-weight="normal" >time now</text>
<line x1="868.5" y1="537.5" x2="868.5" y2="847.5" stroke="#262626" stroke-width="1.05" />
<line x1="868" y1="847.5" x2="1322" y2="847.5" stroke="#262626" stroke-width="1.05" />
<line x1="868.5" y1="537.5" x2="873" y2="537.5" stroke="#262626" stroke-width="1.05" />
<line x1="868.5" y1="615.5" x2="873" y2="615.5" stroke="#262626" stroke-width="1.05" />
<line x1="868.5" y1="692.5" x2="873" y2="692.5" stroke="#262626" stroke-width="1.05" />
<line x1="868.5" y1="770.5" x2="873" y2="770.5" stroke="#262626" stroke-width="1.05" />
<line x1="868.5" y1="847.5" x2="873" y2="847.5" stroke="#262626" stroke-width="1.05" />
<line x1="868.5" y1="847.5" x2="868.5" y2="843" stroke="#262626" stroke-width="1.05" />
<text x="867.8" y="876.7" font-size="20.83" fill="#262626" text-anchor="middle" font-weight="normal" >0</text>
<line x1="887.5" y1="847.5" x2="887.5" y2="843" stroke="#262626" stroke-width="1.05" />
<line x1="906.5" y1="847.5" x2="906.5" y2="843" stroke="#262626" stroke-width="1.05" />
<line x1="925.5" y1="847.5" x2="925.5" y2="843" stroke="#262626" stroke-width="1.05" />
<text x="924.42" y="876.7" font-size="20.83" fill="#262626" text-anchor="middle" font-weight="normal" >3</text>
<line x1="944.5" y1="847.5" x2="944.5" y2="843" stroke="#262626" stroke-width="1.05" />
<line x1="962.5" y1="847.5" x2="962.5" y2="843" stroke="#262626" stroke-width="1.05" />
<line x1="981.5" y1="847.5" x2="981.5" y2="843" stroke="#262626" stroke-width="1.05" />
<text x="981.05" y="876.7" font-size="20.83" fill="#262626" text-anchor="middle" font-weight="normal" >6</text>
<line x1="1000.5" y1="847.5" x2="1000.5" y2="843" stroke="#262626" stroke-width="1.05" />
<line x1="1019.5" y1="847.5" x2="1019.5" y2="843" stroke="#262626" stroke-width="1.05" />
<line x1="1038.5" y1="847.5" x2="1038.5" y2="843" stroke="#262626" stroke-width="1.05" />
<text x="1037.67" y="876.7" font-size="20.83" fill="#262626" text-anchor="middle" font-weight="normal" >9</text>
<line x1="1057.5" y1="847.5" x2="1057.5" y2="843" stroke="#262626" stroke-width="1.05" />
<line x1="1076.5" y1="847.5" x2="1076.5" y2="843" stroke="#262626" stroke-width="1.05" />
<line x1="1095.5" y1="847.5" x2="1095.5" y2="843" stroke="#262626" stroke-width="1.05" />
<text x="1094.3" y="876.7" font-size="20.83" fill="#262626" text-anchor="middle" font-weight="normal" >12</text>
<line x1="1113.5" y1="847.5" x2="1113.5" y2="843" stroke="#262626" stroke-width="1.05" />
<line x1="1132.5" y1="847.5" x2="1132.5" y2="843" stroke="#262626" stroke-width="1.05" />
<line x1="1151.5" y1="847.5" x2="1151.5" y2="843" stroke="#262626" stroke-width="1.05" />
<text x="1150.92" y="876.7" font-size="20.83" fill="#262626" text-anchor="middle" font-weight="normal" >15</text>
<line x1="1170.5" y1="847.5" x2="1170.5" y2="843" stroke="#262626" stroke-width="1.05" />
<line x1="1189.5" y1="847.5" x2="1189.5" y2="843" stroke="#262626" stroke-width="1.05" />
<line x1="1208.5" y1="847.5" x2="1208.5" y2="843" stroke="#262626" stroke-width="1.05" />
<text x="1207.55" y="876.7" font-size="20.83" fill="#262626" text-anchor="middle" font-weight="normal" >18</text>
<line x1="1227.5" y1="847.5" x2="1227.5" y2="843" stroke="#262626" stroke-width="1.05" />
<line x1="1246.5" y1="847.5" x2="1246.5" y2="843" stroke="#262626" stroke-width="1.05" />
<line x1="1264.5" y1="847.5" x2="1264.5" y2="843" stroke="#262626" stroke-width="1.05" />
<text x="1264.17" y="876.7" font-size="20.83" fill="#262626" text-anchor="middle" font-weight="normal" >21</text>
<line x1="1283.5" y1="847.5" x2="1283.5" y2="843" stroke="#262626" stroke-width="1.05" />
<line x1="1302.5" y1="847.5" x2="1302.5" y2="843" stroke="#262626" stroke-width="1.05" />
<line x1="1321.5" y1="847.5" x2="1321.5" y2="843" stroke="#262626" stroke-width="1.05" />
<text x="1320.8" y="876.7" font-size="20.83" fill="#262626" text-anchor="middle" font-weight="normal" >24</text>
<text x="1330.5" y="605.9" font-size="16.67" fill="#000" text-anchor="start" font-weight="bold" >dB/dT Alert</text>
<text x="1330.5" y="760.6" font-size="16.67" fill="#0000ff" text-anchor="start" font-weight="bold" >B Alert</text>
<rect x="1523" y="598.9" width="41.9" height="32" fill="#00ff00" />
<rect x="1523.6" y="583.2" width="37.3" height="15.7" fill="#ffff00" />
<rect x="1523.6" y="630.9" width="37.3" height="15.6" fill="#ffff00" />
<rect x="1524" y="568" width="36.9" height="15.2" fill="#ff0000" />
<rect x="1524" y="646.5" width="36.9" height="15.4" fill="#ff0000" />
<line x1="1464.5" y1="692.5" x2="1914.5" y2="692.5" stroke="#000" stroke-width="1.05" />
<line x1="1761.6" y1="572" x2="1761.6" y2="847.5" stroke="#00ffff" stroke-width="3" />
<rect x="1755.4" y="533.3" width="110" height="38.9" fill="#fff" stroke="#00ffff" stroke-width="1.1"/>
<text x="1761.8" y="560" font-size="20.83" fill="#000" text-anchor="start" font-weight="normal" >time now</text>
<line x1="1464.5" y1="537.5" x2="1464.5" y2="847.5" stroke="#262626" stroke-width="1.05" />
<line x1="1464" y1="847.5" x2="1915" y2="847.5" stroke="#262626" stroke-width="1.05" />
<line x1="1464.5" y1="537.5" x2="1469" y2="537.5" stroke="#262626" stroke-width="1.05" />
<line x1="1464.5" y1="615.5" x2="1469" y2="615.5" stroke="#262626" stroke-width="1.05" />
<line x1="1464.5" y1="692.5" x2="1469" y2="692.5" stroke="#262626" stroke-width="1.05" />
<line x1="1464.5" y1="770.5" x2="1469" y2="770.5" stroke="#262626" stroke-width="1.05" />
<line x1="1464.5" y1="847.5" x2="1469" y2="847.5" stroke="#262626" stroke-width="1.05" />
<line x1="1464.5" y1="847.5" x2="1464.5" y2="843" stroke="#262626" stroke-width="1.05" />
<text x="1463.8" y="876.7" font-size="20.83" fill="#262626" text-anchor="middle" font-weight="normal" >0</text>
<line x1="1483.5" y1="847.5" x2="1483.5" y2="843" stroke="#262626" stroke-width="1.05" />
<line x1="1502.5" y1="847.5" x2="1502.5" y2="843" stroke="#262626" stroke-width="1.05" />
<line x1="1520.5" y1="847.5" x2="1520.5" y2="843" stroke="#262626" stroke-width="1.05" />
<text x="1520.05" y="876.7" font-size="20.83" fill="#262626" text-anchor="middle" font-weight="normal" >3</text>
<line x1="1539.5" y1="847.5" x2="1539.5" y2="843" stroke="#262626" stroke-width="1.05" />
<line x1="1558.5" y1="847.5" x2="1558.5" y2="843" stroke="#262626" stroke-width="1.05" />
<line x1="1577.5" y1="847.5" x2="1577.5" y2="843" stroke="#262626" stroke-width="1.05" />
<text x="1576.3" y="876.7" font-size="20.83" fill="#262626" text-anchor="middle" font-weight="normal" >6</text>
<line x1="1595.5" y1="847.5" x2="1595.5" y2="843" stroke="#262626" stroke-width="1.05" />
<line x1="1614.5" y1="847.5" x2="1614.5" y2="843" stroke="#262626" stroke-width="1.05" />
<line x1="1633.5" y1="847.5" x2="1633.5" y2="843" stroke="#262626" stroke-width="1.05" />
<text x="1632.55" y="876.7" font-size="20.83" fill="#262626" text-anchor="middle" font-weight="normal" >9</text>
<line x1="1652.5" y1="847.5" x2="1652.5" y2="843" stroke="#262626" stroke-width="1.05" />
<line x1="1670.5" y1="847.5" x2="1670.5" y2="843" stroke="#262626" stroke-width="1.05" />
<line x1="1689.5" y1="847.5" x2="1689.5" y2="843" stroke="#262626" stroke-width="1.05" />
<text x="1688.8" y="876.7" font-size="20.83" fill="#262626" text-anchor="middle" font-weight="normal" >12</text>
<line x1="1708.5" y1="847.5" x2="1708.5" y2="843" stroke="#262626" stroke-width="1.05" />
<line x1="1727.5" y1="847.5" x2="1727.5" y2="843" stroke="#262626" stroke-width="1.05" />
<line x1="1745.5" y1="847.5" x2="1745.5" y2="843" stroke="#262626" stroke-width="1.05" />
<text x="1745.05" y="876.7" font-size="20.83" fill="#262626" text-anchor="middle" font-weight="normal" >15</text>
<line x1="1764.5" y1="847.5" x2="1764.5" y2="843" stroke="#262626" stroke-width="1.05" />
<line x1="1783.5" y1="847.5" x2="1783.5" y2="843" stroke="#262626" stroke-width="1.05" />
<line x1="1802.5" y1="847.5" x2="1802.5" y2="843" stroke="#262626" stroke-width="1.05" />
<text x="1801.3" y="876.7" font-size="20.83" fill="#262626" text-anchor="middle" font-weight="normal" >18</text>
<line x1="1820.5" y1="847.5" x2="1820.5" y2="843" stroke="#262626" stroke-width="1.05" />
<line x1="1839.5" y1="847.5" x2="1839.5" y2="843" stroke="#262626" stroke-width="1.05" />
<line x1="1858.5" y1="847.5" x2="1858.5" y2="843" stroke="#262626" stroke-width="1.05" />
<text x="1857.55" y="876.7" font-size="20.83" fill="#262626" text-anchor="middle" font-weight="normal" >21</text>
<line x1="1877.5" y1="847.5" x2="1877.5" y2="843" stroke="#262626" stroke-width="1.05" />
<line x1="1895.5" y1="847.5" x2="1895.5" y2="843" stroke="#262626" stroke-width="1.05" />
<line x1="1914.5" y1="847.5" x2="1914.5" y2="843" stroke="#262626" stroke-width="1.05" />
<text x="1913.8" y="876.7" font-size="20.83" fill="#262626" text-anchor="middle" font-weight="normal" >24</text>
<rect x="268.2" y="881.8" width="159.4" height="40" fill="#00ff00" />
<text x="275.8" y="909.1" font-size="20.83" fill="#000" text-anchor="start" font-weight="normal" >minor activity</text>
<rect x="432.2" y="881.8" width="196.7" height="40" fill="#ffff00" />
<text x="440.1" y="909.1" font-size="20.83" fill="#000" text-anchor="start" font-weight="normal" >moderate activity</text>
<rect x="628.9" y="881.8" width="165.5" height="40" fill="#ff0000" />
<text x="636.5" y="909.1" font-size="20.83" fill="#000" text-anchor="start" font-weight="normal" >strong activity</text>
<text x="1259.6" y="909.3" font-size="20.83" fill="#000" text-anchor="start" font-weight="normal" >Current Warning:</text>
<text x="1456" y="911.9" font-size="31.25" fill="#000" text-anchor="start" font-weight="normal" >0.0/9</text>
<rect x="276" y="935" width="409.25" height="331" fill="#e6e6e6" />
<rect x="1573.74" y="935" width="340.76" height="331" fill="#e6e6e6" />
<rect x="412.08" y="1241.81" width="11.38" height="24.69" fill="#00ff00" stroke="#000" stroke-width="1.05"/>
<rect x="491.76" y="1155.95" width="11.38" height="110.55" fill="#00ff00" stroke="#000" stroke-width="1.05"/>
<rect x="503.14" y="1155.95" width="11.38" height="110.55" fill="#00ff00" stroke="#000" stroke-width="1.05"/>
<rect x="514.52" y="1254.34" width="11.38" height="12.16" fill="#00ff00" stroke="#000" stroke-width="1.05"/>
<rect x="525.9" y="1204.96" width="11.38" height="61.54" fill="#00ff00" stroke="#000" stroke-width="1.05"/>
<rect x="537.28" y="1241.81" width="11.38" height="24.69" fill="#00ff00" stroke="#000" stroke-width="1.05"/>
<rect x="548.67" y="1192.8" width="11.38" height="73.7" fill="#00ff00" stroke="#000" stroke-width="1.05"/>
<rect x="560.05" y="1131.26" width="11.38" height="135.24" fill="#ffff00" stroke="#000" stroke-width="1.05"/>
<rect x="571.43" y="1155.95" width="11.38" height="110.55" fill="#00ff00" stroke="#000" stroke-width="1.05"/>
<rect x="582.81" y="1204.96" width="11.38" height="61.54" fill="#00ff00" stroke="#000" stroke-width="1.05"/>
<rect x="594.19" y="1168.11" width="11.38" height="98.39" fill="#00ff00" stroke="#000" stroke-width="1.05"/>
<rect x="605.58" y="1180.64" width="11.38" height="85.86" fill="#00ff00" stroke="#000" stroke-width="1.05"/>
<rect x="616.96" y="1217.49" width="11.38" height="49.01" fill="#00ff00" stroke="#000" stroke-width="1.05"/>
<line x1="1356.9" y1="973" x2="1356.9" y2="1266.5" stroke="#00ffff" stroke-width="3" />
<rect x="1350.3" y="933.8" width="111" height="39.3" fill="#fff" stroke="#00ffff" stroke-width="1.1"/>
<text x="1356.7" y="961" font-size="20.83" fill="#000" text-anchor="start" font-weight="normal" >time now</text>
<line x1="275.5" y1="935" x2="275.5" y2="1266.5" stroke="#262626" stroke-width="1.05" />
<line x1="275" y1="1266.5" x2="1915" y2="1266.5" stroke="#262626" stroke-width="1.05" />
<line x1="275.5" y1="1266.5" x2="291.9" y2="1266.5" stroke="#262626" stroke-width="1.05" />
<text x="264.7" y="1274.1" font-size="20.83" fill="#262626" text-anchor="end" font-weight="normal" >0</text>
<line x1="275.5" y1="1192.5" x2="291.9" y2="1192.5" stroke="#262626" stroke-width="1.05" />
<text x="264.7" y="1200.4" font-size="20.83" fill="#262626" text-anchor="end" font-weight="normal" >2</text>
<line x1="275.5" y1="1119.5" x2="291.9" y2="1119.5" stroke="#262626" stroke-width="1.05" />
<text x="264.7" y="1126.7" font-size="20.83" fill="#262626" text-anchor="end" font-weight="normal" >4</text>
<line x1="275.5" y1="1045.5" x2="291.9" y2="1045.5" stroke="#262626" stroke-width="1.05" />
<text x="264.7" y="1053" font-size="20.83" fill="#262626" text-anchor="end" font-weight="normal" >6</text>
<line x1="275.5" y1="971.5" x2="291.9" y2="971.5" stroke="#262626" stroke-width="1.05" />
<text x="264.7" y="979.3" font-size="20.83" fill="#262626" text-anchor="end" font-weight="normal" >8</text>
<line x1="275.5" y1="1266.5" x2="275.5" y2="1250.1" stroke="#262626" stroke-width="1.05" />
<text x="275.5" y="1294.6" font-size="20.83" fill="#262626" text-anchor="middle" font-weight="normal" >0</text>
<line x1="343.5" y1="1266.5" x2="343.5" y2="1250.1" stroke="#262626" stroke-width="1.05" />
<text x="343.79" y="1294.6" font-size="20.83" fill="#262626" text-anchor="middle" font-weight="normal" >1</text>
<line x1="412.5" y1="1266.5" x2="412.5" y2="1250.1" stroke="#262626" stroke-width="1.05" />
<text x="412.08" y="1294.6" font-size="20.83" fill="#262626" text-anchor="middle" font-weight="normal" >2</text>
<line x1="480.5" y1="1266.5" x2="480.5" y2="1250.1" stroke="#262626" stroke-width="1.05" />
<text x="480.38" y="1294.6" font-size="20.83" fill="#262626" text-anchor="middle" font-weight="normal" >3</text>
<line x1="548.5" y1="1266.5" x2="548.5" y2="1250.1" stroke="#262626" stroke-width="1.05" />
<text x="548.67" y="1294.6" font-size="20.83" fill="#262626" text-anchor="middle" font-weight="normal" >4</text>
<line x1="616.5" y1="1266.5" x2="616.5" y2="1250.1" stroke="#262626" stroke-width="1.05" />
<text x="616.96" y="1294.6" font-size="20.83" fill="#262626" text-anchor="middle" font-weight="normal" >5</text>
<line x1="685.5" y1="1266.5" x2="685.5" y2="1250.1" stroke="#262626" stroke-width="1.05" />
<text x="685.25" y="1294.6" font-size="20.83" fill="#262626" text-anchor="middle" font-weight="normal" >6</text>
<line x1="753.5" y1="1266.5" x2="753.5" y2="1250.1" stroke="#262626" stroke-width="1.05" />
<text x="753.54" y="1294.6" font-size="20.83" fill="#262626" text-anchor="middle" font-weight="normal" >7</text>
<line x1="821.5" y1="1266.5" x2="821.5" y2="1250.1" stroke="#262626" stroke-width="1.05" />
<text x="821.83" y="1294.6" font-size="20.83" fill="#262626" text-anchor="middle" font-weight="normal" >8</text>
<line x1="890.5" y1="1266.5" x2="890.5" y2="1250.1" stroke="#262626" stroke-width="1.05" />
<text x="890.12" y="1294.6" font-size="20.83" fill="#262626" text-anchor="middle" font-weight="normal" >9</text>
<line x1="958.5" y1="1266.5" x2="958.5" y2="1250.1" stroke="#262626" stroke-width="1.05" />
<text x="958.42" y="1294.6" font-size="20.83" fill="#262626" text-anchor="middle" font-weight="normal" >10</text>
<line x1="1026.5" y1="1266.5" x2="1026.5" y2="1250.1" stroke="#262626" stroke-width="1.05" />
<text x="1026.71" y="1294.6" font-size="20.83" fill="#262626" text-anchor="middle" font-weight="normal" >11</text>
<line x1="1095.5" y1="1266.5" x2="1095.5" y2="1250.1" stroke="#262626" stroke-width="1.05" />
<text x="1095" y="1294.6" font-size="20.83" fill="#262626" text-anchor="middle" font-weight="normal" >12</text>
<line x1="1163.5" y1="1266.5" x2="1163.5" y2="1250.1" stroke="#262626" stroke-width="1.05" />
<text x="1163.29" y="1294.6" font-size="20.83" fill="#262626" text-anchor="middle" font-weight="normal" >13</text>
<line x1="1231.5" y1="1266.5" x2="1231.5" y2="1250.1" stroke="#262626" stroke-width="1.05" />
<text x="1231.58" y="1294.6" font-size="20.83" fill="#262626" text-anchor="middle" font-weight="normal" >14</text>
<line x1="1299.5" y1="1266.5" x2="1299.5" y2="1250.1" stroke="#262626" stroke-width="1.05" />
<text x="1299.88" y="1294.6" font-size="20.83" fill="#262626" text-anchor="middle" font-weight="normal" >15</text>
<line x1="1368.5" y1="1266.5" x2="1368.5" y2="1250.1" stroke="#262626" stroke-width="1.05" />
<text x="1368.17" y="1294.6" font-size="20.83" fill="#262626" text-anchor="middle" font-weight="normal" >16</text>
<line x1="1436.5" y1="1266.5" x2="1436.5" y2="1250.1" stroke="#262626" stroke-width="1.05" />
<text x="1436.46" y="1294.6" font-size="20.83" fill="#262626" text-anchor="middle" font-weight="normal" >17</text>
<line x1="1504.5" y1="1266.5" x2="1504.5" y2="1250.1" stroke="#262626" stroke-width="1.05" />
<text x="1504.75" y="1294.6" font-size="20.83" fill="#262626" text-anchor="middle" font-weight="normal" >18</text>
<line x1="1573.5" y1="1266.5" x2="1573.5" y2="1250.1" stroke="#262626" stroke-width="1.05" />
<text x="1573.04" y="1294.6" font-size="20.83" fill="#262626" text-anchor="middle" font-weight="normal" >19</text>
<line x1="1641.5" y1="1266.5" x2="1641.5" y2="1250.1" stroke="#262626" stroke-width="1.05" />
<text x="1641.33" y="1294.6" font-size="20.83" fill="#262626" text-anchor="middle" font-weight="normal" >20</text>
<line x1="1709.5" y1="1266.5" x2="1709.5" y2="1250.1" stroke="#262626" stroke-width="1.05" />
<text x="1709.62" y="1294.6" font-size="20.83" fill="#262626" text-anchor="middle" font-weight="normal" >21</text>
<line x1="1777.5" y1="1266.5" x2="1777.5" y2="1250.1" stroke="#262626" stroke-width="1.05" />
<text x="1777.92" y="1294.6" font-size="20.83" fill="#262626" text-anchor="middle" font-weight="normal" >22</text>
<line x1="1846.5" y1="1266.5" x2="1846.5" y2="1250.1" stroke="#262626" stroke-width="1.05" />
<text x="1846.21" y="1294.6" font-size="20.83" fill="#262626" text-anchor="middle" font-weight="normal" >23</text>
<line x1="1914.5" y1="1266.5" x2="1914.5" y2="1250.1" stroke="#262626" stroke-width="1.05" />
<text x="1095" y="1327.1" font-size="22.92" fill="#262626" text-anchor="middle" font-weight="normal" >Time UTC / h</text>
<text transform="translate(240.3,1100.75) rotate(-90)" font-size="22.92" fill="#262626" text-anchor="middle">Warning Values</text>
<text x="1086" y="1358.7" font-size="20.83" fill="#000" text-anchor="middle" font-weight="normal" >Last updated: Fri 18 Apr 2025 03:50:35 NZST</text>
</svg>
</body></html>
